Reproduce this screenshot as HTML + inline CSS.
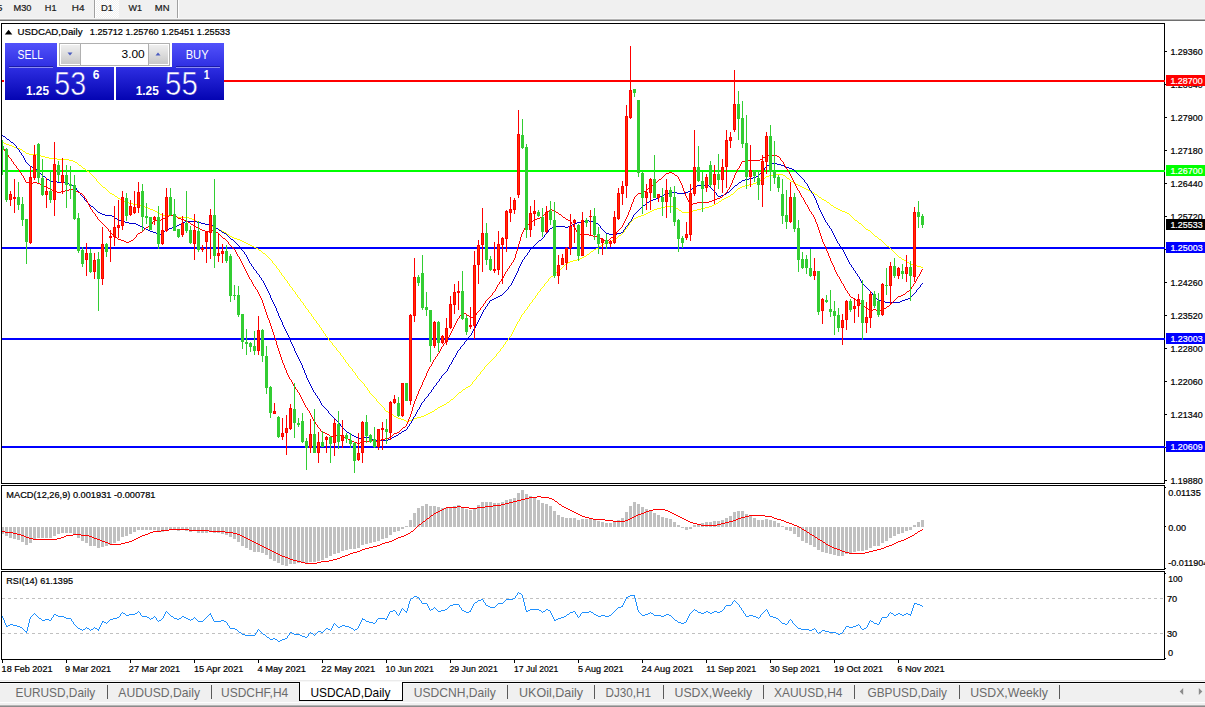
<!DOCTYPE html>
<html><head><meta charset="utf-8"><title>USDCAD,Daily</title>
<style>html,body{margin:0;padding:0;background:#fff;overflow:hidden}body{width:1205px;height:707px;position:relative;font-family:"Liberation Sans",sans-serif}</style></head>
<body>
<svg width="1205" height="707" viewBox="0 0 1205 707" font-family="Liberation Sans, sans-serif" style="position:absolute;left:0;top:0">
<defs>
<linearGradient id="gb" gradientUnits="userSpaceOnUse" x1="0" y1="43" x2="0" y2="100"><stop offset="0" stop-color="#5252fb"/><stop offset="0.45" stop-color="#2c2ce0"/><stop offset="1" stop-color="#0404b2"/></linearGradient>
<linearGradient id="gbtn" x1="0" y1="0" x2="0" y2="1"><stop offset="0" stop-color="#efefef"/><stop offset="0.5" stop-color="#dcdcdc"/><stop offset="1" stop-color="#c8c8c8"/></linearGradient>
<pattern id="dots" width="2" height="2" patternUnits="userSpaceOnUse"><rect width="2" height="2" fill="#f0f0f0"/><rect width="1" height="1" fill="#fff"/><rect x="1" y="1" width="1" height="1" fill="#fff"/></pattern>
</defs>
<rect width="1205" height="707" fill="#fff"/>
<g shape-rendering="crispEdges">
<rect x="0" y="0" width="1205" height="18" fill="#f0f0f0"/>
<rect x="0" y="18" width="1205" height="1" fill="#f6f6f6"/>
<rect x="0" y="19" width="1205" height="1" fill="#b4b4b4"/>
<rect x="0" y="20" width="1205" height="1" fill="#6e6e6e"/>
<rect x="96" y="0" width="23" height="18" fill="url(#dots)"/>
<rect x="94" y="0" width="1" height="18" fill="#a0a0a0"/><rect x="95" y="0" width="1" height="18" fill="#fff"/>
<rect x="177" y="0" width="1" height="18" fill="#a0a0a0"/><rect x="178" y="0" width="1" height="18" fill="#fff"/>
</g>
<text x="-3.20" y="11.00" font-size="9.8" textLength="5.70" lengthAdjust="spacingAndGlyphs" fill="#1a1a1a" stroke="#1a1a1a" stroke-width="0.22">5</text>
<text x="13.50" y="11.00" font-size="9.8" textLength="18.00" lengthAdjust="spacingAndGlyphs" fill="#1a1a1a" stroke="#1a1a1a" stroke-width="0.22">M30</text>
<text x="44.80" y="11.00" font-size="9.8" textLength="11.70" lengthAdjust="spacingAndGlyphs" fill="#1a1a1a" stroke="#1a1a1a" stroke-width="0.22">H1</text>
<text x="71.80" y="11.00" font-size="9.8" textLength="12.70" lengthAdjust="spacingAndGlyphs" fill="#1a1a1a" stroke="#1a1a1a" stroke-width="0.22">H4</text>
<text x="101.00" y="11.00" font-size="9.8" textLength="12.00" lengthAdjust="spacingAndGlyphs" fill="#1a1a1a" stroke="#1a1a1a" stroke-width="0.22">D1</text>
<text x="128.50" y="11.00" font-size="9.8" textLength="13.50" lengthAdjust="spacingAndGlyphs" fill="#1a1a1a" stroke="#1a1a1a" stroke-width="0.22">W1</text>
<text x="154.80" y="11.00" font-size="9.8" textLength="14.70" lengthAdjust="spacingAndGlyphs" fill="#1a1a1a" stroke="#1a1a1a" stroke-width="0.22">MN</text>
<g shape-rendering="crispEdges" fill="#000">
<rect x="1" y="23" width="1164" height="1"/>
<rect x="1" y="23" width="1" height="461"/>
<rect x="1164" y="23" width="1" height="461"/><rect x="1164" y="485" width="1" height="85"/><rect x="1164" y="571" width="1" height="89"/>
<rect x="1" y="483" width="1164" height="1"/>
<rect x="1" y="485" width="1164" height="1"/><rect x="1" y="485" width="1" height="85"/><rect x="1" y="569" width="1164" height="1"/>
<rect x="1" y="571" width="1164" height="1"/><rect x="1" y="571" width="1" height="89"/><rect x="1" y="659" width="1164" height="1"/>
</g>
<rect x="2" y="80" width="1163" height="2" fill="#ff0000" shape-rendering="crispEdges"/>
<rect x="2" y="170" width="1163" height="2" fill="#00ff00" shape-rendering="crispEdges"/>
<rect x="2" y="247" width="1163" height="2" fill="#0000ff" shape-rendering="crispEdges"/>
<rect x="2" y="338" width="1163" height="2" fill="#0000ff" shape-rendering="crispEdges"/>
<rect x="2" y="446" width="1163" height="2" fill="#0000ff" shape-rendering="crispEdges"/>
<clipPath id="cm"><rect x="2" y="24" width="1162" height="459"/></clipPath>
<g clip-path="url(#cm)">
<g shape-rendering="crispEdges">
<path fill="#ffff00" d="M2 142v1h1v-1zM3 142v1h1v-1zM4 143v1h1v-1zM5 143v1h1v-1zM6 144v1h1v-1zM7 144v1h1v-1zM8 144v1h1v-1zM9 145v1h1v-1zM10 145v1h1v-1zM11 145v1h1v-1zM12 146v1h1v-1zM13 146v1h1v-1zM14 147v1h1v-1zM15 147v1h1v-1zM16 147v1h1v-1zM17 148v1h1v-1zM18 148v1h1v-1zM19 148v1h1v-1zM20 149v1h1v-1zM21 149v1h1v-1zM22 150v1h1v-1zM23 151v1h1v-1zM24 151v1h1v-1zM25 152v1h1v-1zM26 153v1h1v-1zM27 153v1h1v-1zM28 153v1h1v-1zM29 154v1h1v-1zM30 154v1h1v-1zM31 154v1h1v-1zM32 154v1h1v-1zM33 154v1h1v-1zM34 154v1h1v-1zM35 154v1h1v-1zM36 154v1h1v-1zM37 155v1h1v-1zM38 155v1h1v-1zM39 155v1h1v-1zM40 155v1h1v-1zM41 156v1h1v-1zM42 156v1h1v-1zM43 156v1h1v-1zM44 156v1h1v-1zM45 157v1h1v-1zM46 157v1h1v-1zM47 157v1h1v-1zM48 157v1h1v-1zM49 158v1h1v-1zM50 158v1h1v-1zM51 158v1h1v-1zM52 158v1h1v-1zM53 158v1h1v-1zM54 158v1h1v-1zM55 158v1h1v-1zM56 158v1h1v-1zM57 159v1h1v-1zM58 159v1h1v-1zM59 159v1h1v-1zM60 159v1h1v-1zM61 159v1h1v-1zM62 159v1h1v-1zM63 159v1h1v-1zM64 159v1h1v-1zM65 159v1h1v-1zM66 159v1h1v-1zM67 159v1h1v-1zM68 159v1h1v-1zM69 160v1h1v-1zM70 160v1h1v-1zM71 160v1h1v-1zM72 160v1h1v-1zM73 161v1h1v-1zM74 161v1h1v-1zM75 162v1h1v-1zM76 162v1h1v-1zM77 163v1h1v-1zM78 164v1h1v-1zM79 165v1h1v-1zM80 165v1h1v-1zM81 166v1h1v-1zM82 167v1h1v-1zM83 168v1h1v-1zM84 168v1h1v-1zM85 169v1h1v-1zM86 170v1h1v-1zM87 171v1h1v-1zM88 171v1h1v-1zM89 172v1h1v-1zM90 173v1h1v-1zM91 174v1h1v-1zM92 175v1h1v-1zM93 176v1h1v-1zM94 177v1h1v-1zM95 178v1h1v-1zM96 179v2h1v-2zM97 181v1h1v-1zM98 182v1h1v-1zM99 183v1h1v-1zM100 184v1h1v-1zM101 185v1h1v-1zM102 186v1h1v-1zM103 187v1h1v-1zM104 187v1h1v-1zM105 188v1h1v-1zM106 189v1h1v-1zM107 190v1h1v-1zM108 191v1h1v-1zM109 192v1h1v-1zM110 193v1h1v-1zM111 193v1h1v-1zM112 194v1h1v-1zM113 194v1h1v-1zM114 195v1h1v-1zM115 196v1h1v-1zM116 196v1h1v-1zM117 197v1h1v-1zM118 198v1h1v-1zM119 198v1h1v-1zM120 199v1h1v-1zM121 199v1h1v-1zM122 200v1h1v-1zM123 200v1h1v-1zM124 201v1h1v-1zM125 201v1h1v-1zM126 202v1h1v-1zM127 202v1h1v-1zM128 202v1h1v-1zM129 203v1h1v-1zM130 203v1h1v-1zM131 203v1h1v-1zM132 203v1h1v-1zM133 204v1h1v-1zM134 204v1h1v-1zM135 204v1h1v-1zM136 204v1h1v-1zM137 205v1h1v-1zM138 205v1h1v-1zM139 205v1h1v-1zM140 205v1h1v-1zM141 206v1h1v-1zM142 206v1h1v-1zM143 206v1h1v-1zM144 206v1h1v-1zM145 207v1h1v-1zM146 207v1h1v-1zM147 207v1h1v-1zM148 208v1h1v-1zM149 208v1h1v-1zM150 209v1h1v-1zM151 209v1h1v-1zM152 209v1h1v-1zM153 210v1h1v-1zM154 210v1h1v-1zM155 211v1h1v-1zM156 211v1h1v-1zM157 212v1h1v-1zM158 213v1h1v-1zM159 213v1h1v-1zM160 214v1h1v-1zM161 214v1h1v-1zM162 215v1h1v-1zM163 215v1h1v-1zM164 215v1h1v-1zM165 215v1h1v-1zM166 215v1h1v-1zM167 215v1h1v-1zM168 215v1h1v-1zM169 215v1h1v-1zM170 215v1h1v-1zM171 215v1h1v-1zM172 215v1h1v-1zM173 216v1h1v-1zM174 216v1h1v-1zM175 216v1h1v-1zM176 216v1h1v-1zM177 217v1h1v-1zM178 217v1h1v-1zM179 217v1h1v-1zM180 217v1h1v-1zM181 217v1h1v-1zM182 217v1h1v-1zM183 217v1h1v-1zM184 217v1h1v-1zM185 217v1h1v-1zM186 217v1h1v-1zM187 217v1h1v-1zM188 217v1h1v-1zM189 218v1h1v-1zM190 218v1h1v-1zM191 218v1h1v-1zM192 219v1h1v-1zM193 219v1h1v-1zM194 220v1h1v-1zM195 220v1h1v-1zM196 221v1h1v-1zM197 221v1h1v-1zM198 222v1h1v-1zM199 222v1h1v-1zM200 222v1h1v-1zM201 223v1h1v-1zM202 223v1h1v-1zM203 223v1h1v-1zM204 223v1h1v-1zM205 224v1h1v-1zM206 224v1h1v-1zM207 224v1h1v-1zM208 224v1h1v-1zM209 225v1h1v-1zM210 225v1h1v-1zM211 225v1h1v-1zM212 226v1h1v-1zM213 226v1h1v-1zM214 227v1h1v-1zM215 227v1h1v-1zM216 228v1h1v-1zM217 228v1h1v-1zM218 229v1h1v-1zM219 229v1h1v-1zM220 230v1h1v-1zM221 230v1h1v-1zM222 231v1h1v-1zM223 231v1h1v-1zM224 232v1h1v-1zM225 232v1h1v-1zM226 233v1h1v-1zM227 234v1h1v-1zM228 234v1h1v-1zM229 235v1h1v-1zM230 236v1h1v-1zM231 236v1h1v-1zM232 237v1h1v-1zM233 237v1h1v-1zM234 238v1h1v-1zM235 238v1h1v-1zM236 238v1h1v-1zM237 239v1h1v-1zM238 239v1h1v-1zM239 239v1h1v-1zM240 240v1h1v-1zM241 240v1h1v-1zM242 241v1h1v-1zM243 241v1h1v-1zM244 242v1h1v-1zM245 242v1h1v-1zM246 243v1h1v-1zM247 243v1h1v-1zM248 244v1h1v-1zM249 244v1h1v-1zM250 245v1h1v-1zM251 245v1h1v-1zM252 246v1h1v-1zM253 246v1h1v-1zM254 247v1h1v-1zM255 247v1h1v-1zM256 248v1h1v-1zM257 248v1h1v-1zM258 249v1h1v-1zM259 250v1h1v-1zM260 250v1h1v-1zM261 251v1h1v-1zM262 252v1h1v-1zM263 253v1h1v-1zM264 253v1h1v-1zM265 254v1h1v-1zM266 255v1h1v-1zM267 256v1h1v-1zM268 257v1h1v-1zM269 258v1h1v-1zM270 259v1h1v-1zM271 260v1h1v-1zM272 261v2h1v-2zM273 263v1h1v-1zM274 264v1h1v-1zM275 265v1h1v-1zM276 266v2h1v-2zM277 268v1h1v-1zM278 269v1h1v-1zM279 270v2h1v-2zM280 272v1h1v-1zM281 273v2h1v-2zM282 275v1h1v-1zM283 276v1h1v-1zM284 277v2h1v-2zM285 279v1h1v-1zM286 280v1h1v-1zM287 281v2h1v-2zM288 283v1h1v-1zM289 284v2h1v-2zM290 286v1h1v-1zM291 287v1h1v-1zM292 288v2h1v-2zM293 290v1h1v-1zM294 291v1h1v-1zM295 292v2h1v-2zM296 294v1h1v-1zM297 295v2h1v-2zM298 297v1h1v-1zM299 298v1h1v-1zM300 299v2h1v-2zM301 301v1h1v-1zM302 302v1h1v-1zM303 303v2h1v-2zM304 305v1h1v-1zM305 306v2h1v-2zM306 308v1h1v-1zM307 309v1h1v-1zM308 310v2h1v-2zM309 312v1h1v-1zM310 313v1h1v-1zM311 314v2h1v-2zM312 316v1h1v-1zM313 317v2h1v-2zM314 319v1h1v-1zM315 320v1h1v-1zM316 321v2h1v-2zM317 323v1h1v-1zM318 324v1h1v-1zM319 325v2h1v-2zM320 327v1h1v-1zM321 328v2h1v-2zM322 330v1h1v-1zM323 331v2h1v-2zM324 333v1h1v-1zM325 334v2h1v-2zM326 336v1h1v-1zM327 337v1h1v-1zM328 338v2h1v-2zM329 340v1h1v-1zM330 341v1h1v-1zM331 342v1h1v-1zM332 343v2h1v-2zM333 345v1h1v-1zM334 346v1h1v-1zM335 347v1h1v-1zM336 348v2h1v-2zM337 350v1h1v-1zM338 351v1h1v-1zM339 352v1h1v-1zM340 353v2h1v-2zM341 355v1h1v-1zM342 356v1h1v-1zM343 357v2h1v-2zM344 359v1h1v-1zM345 360v2h1v-2zM346 362v1h1v-1zM347 363v1h1v-1zM348 364v2h1v-2zM349 366v1h1v-1zM350 367v1h1v-1zM351 368v1h1v-1zM352 369v2h1v-2zM353 371v1h1v-1zM354 372v1h1v-1zM355 373v2h1v-2zM356 375v1h1v-1zM357 376v2h1v-2zM358 378v1h1v-1zM359 379v1h1v-1zM360 380v1h1v-1zM361 381v1h1v-1zM362 382v1h1v-1zM363 383v1h1v-1zM364 384v2h1v-2zM365 386v1h1v-1zM366 387v1h1v-1zM367 388v2h1v-2zM368 390v1h1v-1zM369 391v2h1v-2zM370 393v1h1v-1zM371 394v1h1v-1zM372 395v1h1v-1zM373 396v1h1v-1zM374 397v1h1v-1zM375 398v1h1v-1zM376 399v2h1v-2zM377 401v1h1v-1zM378 402v1h1v-1zM379 403v1h1v-1zM380 404v1h1v-1zM381 405v1h1v-1zM382 406v1h1v-1zM383 407v1h1v-1zM384 408v2h1v-2zM385 410v1h1v-1zM386 411v1h1v-1zM387 411v1h1v-1zM388 412v1h1v-1zM389 412v1h1v-1zM390 413v1h1v-1zM391 414v1h1v-1zM392 414v1h1v-1zM393 415v1h1v-1zM394 416v1h1v-1zM395 416v1h1v-1zM396 417v1h1v-1zM397 417v1h1v-1zM398 418v1h1v-1zM399 418v1h1v-1zM400 418v1h1v-1zM401 419v1h1v-1zM402 419v1h1v-1zM403 419v1h1v-1zM404 420v1h1v-1zM405 420v1h1v-1zM406 421v1h1v-1zM407 421v1h1v-1zM408 421v1h1v-1zM409 420v1h1v-1zM410 420v1h1v-1zM411 420v1h1v-1zM412 419v1h1v-1zM413 419v1h1v-1zM414 418v1h1v-1zM415 418v1h1v-1zM416 418v1h1v-1zM417 417v1h1v-1zM418 417v1h1v-1zM419 417v1h1v-1zM420 417v1h1v-1zM421 416v1h1v-1zM422 416v1h1v-1zM423 416v1h1v-1zM424 415v1h1v-1zM425 415v1h1v-1zM426 414v1h1v-1zM427 414v1h1v-1zM428 413v1h1v-1zM429 413v1h1v-1zM430 412v1h1v-1zM431 412v1h1v-1zM432 411v1h1v-1zM433 411v1h1v-1zM434 410v1h1v-1zM435 409v1h1v-1zM436 409v1h1v-1zM437 408v1h1v-1zM438 407v1h1v-1zM439 407v1h1v-1zM440 406v1h1v-1zM441 406v1h1v-1zM442 405v1h1v-1zM443 405v1h1v-1zM444 404v1h1v-1zM445 404v1h1v-1zM446 403v1h1v-1zM447 402v1h1v-1zM448 402v1h1v-1zM449 401v1h1v-1zM450 400v1h1v-1zM451 399v1h1v-1zM452 399v1h1v-1zM453 398v1h1v-1zM454 397v1h1v-1zM455 396v1h1v-1zM456 395v1h1v-1zM457 394v1h1v-1zM458 393v1h1v-1zM459 392v1h1v-1zM460 392v1h1v-1zM461 391v1h1v-1zM462 390v1h1v-1zM463 389v1h1v-1zM464 389v1h1v-1zM465 388v1h1v-1zM466 387v1h1v-1zM467 387v1h1v-1zM468 386v1h1v-1zM469 386v1h1v-1zM470 385v1h1v-1zM471 384v1h1v-1zM472 382v2h1v-2zM473 381v1h1v-1zM474 380v1h1v-1zM475 379v1h1v-1zM476 377v2h1v-2zM477 376v1h1v-1zM478 375v1h1v-1zM479 374v1h1v-1zM480 372v2h1v-2zM481 371v1h1v-1zM482 370v1h1v-1zM483 369v1h1v-1zM484 367v2h1v-2zM485 366v1h1v-1zM486 365v1h1v-1zM487 364v1h1v-1zM488 363v1h1v-1zM489 362v1h1v-1zM490 361v1h1v-1zM491 360v1h1v-1zM492 359v1h1v-1zM493 358v1h1v-1zM494 357v1h1v-1zM495 356v1h1v-1zM496 354v2h1v-2zM497 353v1h1v-1zM498 352v1h1v-1zM499 351v1h1v-1zM500 349v2h1v-2zM501 348v1h1v-1zM502 347v1h1v-1zM503 345v2h1v-2zM504 344v1h1v-1zM505 342v2h1v-2zM506 341v1h1v-1zM507 340v1h1v-1zM508 338v2h1v-2zM509 337v1h1v-1zM510 336v1h1v-1zM511 334v2h1v-2zM512 332v2h1v-2zM513 330v2h1v-2zM514 328v2h1v-2zM515 326v2h1v-2zM516 324v2h1v-2zM517 322v2h1v-2zM518 321v1h1v-1zM519 319v2h1v-2zM520 317v2h1v-2zM521 315v2h1v-2zM522 314v1h1v-1zM523 313v1h1v-1zM524 311v2h1v-2zM525 310v1h1v-1zM526 309v1h1v-1zM527 307v2h1v-2zM528 306v1h1v-1zM529 304v2h1v-2zM530 303v1h1v-1zM531 302v1h1v-1zM532 300v2h1v-2zM533 299v1h1v-1zM534 298v1h1v-1zM535 296v2h1v-2zM536 295v1h1v-1zM537 293v2h1v-2zM538 292v1h1v-1zM539 291v1h1v-1zM540 289v2h1v-2zM541 288v1h1v-1zM542 287v1h1v-1zM543 286v1h1v-1zM544 284v2h1v-2zM545 283v1h1v-1zM546 282v1h1v-1zM547 281v1h1v-1zM548 279v2h1v-2zM549 278v1h1v-1zM550 277v1h1v-1zM551 276v1h1v-1zM552 276v1h1v-1zM553 275v1h1v-1zM554 274v1h1v-1zM555 273v1h1v-1zM556 272v1h1v-1zM557 271v1h1v-1zM558 270v1h1v-1zM559 269v1h1v-1zM560 269v1h1v-1zM561 268v1h1v-1zM562 267v1h1v-1zM563 266v1h1v-1zM564 265v1h1v-1zM565 264v1h1v-1zM566 263v1h1v-1zM567 263v1h1v-1zM568 262v1h1v-1zM569 262v1h1v-1zM570 261v1h1v-1zM571 261v1h1v-1zM572 261v1h1v-1zM573 260v1h1v-1zM574 260v1h1v-1zM575 260v1h1v-1zM576 260v1h1v-1zM577 259v1h1v-1zM578 259v1h1v-1zM579 259v1h1v-1zM580 258v1h1v-1zM581 258v1h1v-1zM582 257v1h1v-1zM583 257v1h1v-1zM584 256v1h1v-1zM585 256v1h1v-1zM586 255v1h1v-1zM587 254v1h1v-1zM588 254v1h1v-1zM589 253v1h1v-1zM590 252v1h1v-1zM591 251v1h1v-1zM592 251v1h1v-1zM593 250v1h1v-1zM594 249v1h1v-1zM595 249v1h1v-1zM596 248v1h1v-1zM597 248v1h1v-1zM598 247v1h1v-1zM599 246v1h1v-1zM600 246v1h1v-1zM601 245v1h1v-1zM602 244v1h1v-1zM603 244v1h1v-1zM604 243v1h1v-1zM605 243v1h1v-1zM606 242v1h1v-1zM607 242v1h1v-1zM608 242v1h1v-1zM609 241v1h1v-1zM610 241v1h1v-1zM611 241v1h1v-1zM612 240v1h1v-1zM613 240v1h1v-1zM614 239v1h1v-1zM615 238v1h1v-1zM616 238v1h1v-1zM617 237v1h1v-1zM618 236v1h1v-1zM619 235v1h1v-1zM620 235v1h1v-1zM621 234v1h1v-1zM622 233v1h1v-1zM623 232v1h1v-1zM624 230v2h1v-2zM625 229v1h1v-1zM626 228v1h1v-1zM627 226v2h1v-2zM628 225v1h1v-1zM629 223v2h1v-2zM630 222v1h1v-1zM631 221v1h1v-1zM632 220v1h1v-1zM633 219v1h1v-1zM634 218v1h1v-1zM635 218v1h1v-1zM636 217v1h1v-1zM637 217v1h1v-1zM638 216v1h1v-1zM639 216v1h1v-1zM640 216v1h1v-1zM641 215v1h1v-1zM642 215v1h1v-1zM643 215v1h1v-1zM644 214v1h1v-1zM645 214v1h1v-1zM646 213v1h1v-1zM647 213v1h1v-1zM648 212v1h1v-1zM649 212v1h1v-1zM650 211v1h1v-1zM651 211v1h1v-1zM652 210v1h1v-1zM653 210v1h1v-1zM654 209v1h1v-1zM655 209v1h1v-1zM656 209v1h1v-1zM657 208v1h1v-1zM658 208v1h1v-1zM659 208v1h1v-1zM660 208v1h1v-1zM661 207v1h1v-1zM662 207v1h1v-1zM663 207v1h1v-1zM664 207v1h1v-1zM665 206v1h1v-1zM666 206v1h1v-1zM667 206v1h1v-1zM668 206v1h1v-1zM669 206v1h1v-1zM670 206v1h1v-1zM671 206v1h1v-1zM672 206v1h1v-1zM673 207v1h1v-1zM674 207v1h1v-1zM675 207v1h1v-1zM676 208v1h1v-1zM677 208v1h1v-1zM678 209v1h1v-1zM679 210v1h1v-1zM680 210v1h1v-1zM681 211v1h1v-1zM682 212v1h1v-1zM683 212v1h1v-1zM684 212v1h1v-1zM685 212v1h1v-1zM686 212v1h1v-1zM687 212v1h1v-1zM688 212v1h1v-1zM689 211v1h1v-1zM690 211v1h1v-1zM691 211v1h1v-1zM692 211v1h1v-1zM693 210v1h1v-1zM694 210v1h1v-1zM695 210v1h1v-1zM696 210v1h1v-1zM697 209v1h1v-1zM698 209v1h1v-1zM699 209v1h1v-1zM700 209v1h1v-1zM701 208v1h1v-1zM702 208v1h1v-1zM703 208v1h1v-1zM704 208v1h1v-1zM705 207v1h1v-1zM706 207v1h1v-1zM707 207v1h1v-1zM708 207v1h1v-1zM709 206v1h1v-1zM710 206v1h1v-1zM711 206v1h1v-1zM712 205v1h1v-1zM713 205v1h1v-1zM714 204v1h1v-1zM715 204v1h1v-1zM716 203v1h1v-1zM717 203v1h1v-1zM718 202v1h1v-1zM719 201v1h1v-1zM720 201v1h1v-1zM721 200v1h1v-1zM722 199v1h1v-1zM723 199v1h1v-1zM724 198v1h1v-1zM725 198v1h1v-1zM726 197v1h1v-1zM727 197v1h1v-1zM728 196v1h1v-1zM729 196v1h1v-1zM730 195v1h1v-1zM731 194v1h1v-1zM732 194v1h1v-1zM733 193v1h1v-1zM734 192v1h1v-1zM735 191v1h1v-1zM736 190v1h1v-1zM737 189v1h1v-1zM738 188v1h1v-1zM739 188v1h1v-1zM740 187v1h1v-1zM741 187v1h1v-1zM742 186v1h1v-1zM743 186v1h1v-1zM744 186v1h1v-1zM745 185v1h1v-1zM746 185v1h1v-1zM747 185v1h1v-1zM748 185v1h1v-1zM749 184v1h1v-1zM750 184v1h1v-1zM751 184v1h1v-1zM752 184v1h1v-1zM753 183v1h1v-1zM754 183v1h1v-1zM755 183v1h1v-1zM756 182v1h1v-1zM757 182v1h1v-1zM758 181v1h1v-1zM759 181v1h1v-1zM760 180v1h1v-1zM761 180v1h1v-1zM762 179v1h1v-1zM763 178v1h1v-1zM764 178v1h1v-1zM765 177v1h1v-1zM766 176v1h1v-1zM767 176v1h1v-1zM768 176v1h1v-1zM769 175v1h1v-1zM770 175v1h1v-1zM771 175v1h1v-1zM772 175v1h1v-1zM773 174v1h1v-1zM774 174v1h1v-1zM775 174v1h1v-1zM776 174v1h1v-1zM777 174v1h1v-1zM778 174v1h1v-1zM779 174v1h1v-1zM780 174v1h1v-1zM781 174v1h1v-1zM782 174v1h1v-1zM783 175v1h1v-1zM784 175v1h1v-1zM785 176v1h1v-1zM786 177v1h1v-1zM787 178v1h1v-1zM788 178v1h1v-1zM789 179v1h1v-1zM790 180v1h1v-1zM791 181v1h1v-1zM792 181v1h1v-1zM793 182v1h1v-1zM794 183v1h1v-1zM795 183v1h1v-1zM796 184v1h1v-1zM797 184v1h1v-1zM798 185v1h1v-1zM799 185v1h1v-1zM800 186v1h1v-1zM801 186v1h1v-1zM802 187v1h1v-1zM803 187v1h1v-1zM804 188v1h1v-1zM805 188v1h1v-1zM806 189v1h1v-1zM807 189v1h1v-1zM808 190v1h1v-1zM809 190v1h1v-1zM810 191v1h1v-1zM811 191v1h1v-1zM812 192v1h1v-1zM813 192v1h1v-1zM814 193v1h1v-1zM815 194v1h1v-1zM816 194v1h1v-1zM817 195v1h1v-1zM818 196v1h1v-1zM819 197v1h1v-1zM820 197v1h1v-1zM821 198v1h1v-1zM822 199v1h1v-1zM823 199v1h1v-1zM824 200v1h1v-1zM825 200v1h1v-1zM826 201v1h1v-1zM827 202v1h1v-1zM828 202v1h1v-1zM829 203v1h1v-1zM830 204v1h1v-1zM831 205v1h1v-1zM832 205v1h1v-1zM833 206v1h1v-1zM834 207v1h1v-1zM835 207v1h1v-1zM836 208v1h1v-1zM837 208v1h1v-1zM838 209v1h1v-1zM839 209v1h1v-1zM840 210v1h1v-1zM841 210v1h1v-1zM842 211v1h1v-1zM843 211v1h1v-1zM844 211v1h1v-1zM845 212v1h1v-1zM846 212v1h1v-1zM847 213v1h1v-1zM848 213v1h1v-1zM849 214v1h1v-1zM850 215v1h1v-1zM851 216v1h1v-1zM852 217v1h1v-1zM853 218v1h1v-1zM854 219v1h1v-1zM855 220v1h1v-1zM856 220v1h1v-1zM857 221v1h1v-1zM858 222v1h1v-1zM859 223v1h1v-1zM860 223v1h1v-1zM861 224v1h1v-1zM862 225v1h1v-1zM863 226v1h1v-1zM864 227v1h1v-1zM865 228v1h1v-1zM866 229v1h1v-1zM867 229v1h1v-1zM868 230v1h1v-1zM869 230v1h1v-1zM870 231v1h1v-1zM871 232v1h1v-1zM872 233v1h1v-1zM873 234v1h1v-1zM874 235v1h1v-1zM875 236v1h1v-1zM876 236v1h1v-1zM877 237v1h1v-1zM878 238v1h1v-1zM879 239v1h1v-1zM880 239v1h1v-1zM881 240v1h1v-1zM882 241v1h1v-1zM883 242v1h1v-1zM884 243v1h1v-1zM885 244v1h1v-1zM886 245v1h1v-1zM887 246v1h1v-1zM888 246v1h1v-1zM889 247v1h1v-1zM890 248v1h1v-1zM891 249v1h1v-1zM892 250v1h1v-1zM893 251v1h1v-1zM894 252v1h1v-1zM895 253v1h1v-1zM896 254v1h1v-1zM897 255v1h1v-1zM898 256v1h1v-1zM899 257v1h1v-1zM900 257v1h1v-1zM901 258v1h1v-1zM902 259v1h1v-1zM903 259v1h1v-1zM904 260v1h1v-1zM905 260v1h1v-1zM906 261v1h1v-1zM907 262v1h1v-1zM908 262v1h1v-1zM909 263v1h1v-1zM910 264v1h1v-1zM911 264v1h1v-1zM912 264v1h1v-1zM913 265v1h1v-1zM914 265v1h1v-1zM915 265v1h1v-1zM916 265v1h1v-1zM917 266v1h1v-1zM918 266v1h1v-1zM919 266v1h1v-1zM920 266v1h1v-1zM921 267v1h1v-1zM922 267v1h1v-1z"/>
<path fill="#0000cd" d="M2 135v1h1v-1zM3 136v1h1v-1zM4 136v1h1v-1zM5 137v1h1v-1zM6 138v1h1v-1zM7 139v1h1v-1zM8 139v1h1v-1zM9 140v1h1v-1zM10 141v1h1v-1zM11 142v1h1v-1zM12 142v1h1v-1zM13 143v1h1v-1zM14 144v1h1v-1zM15 145v1h1v-1zM16 146v2h1v-2zM17 148v1h1v-1zM18 149v1h1v-1zM19 150v2h1v-2zM20 152v1h1v-1zM21 153v2h1v-2zM22 155v1h1v-1zM23 156v2h1v-2zM24 158v2h1v-2zM25 160v2h1v-2zM26 162v1h1v-1zM27 163v1h1v-1zM28 164v1h1v-1zM29 165v1h1v-1zM30 166v1h1v-1zM31 166v1h1v-1zM32 167v1h1v-1zM33 167v1h1v-1zM34 168v1h1v-1zM35 169v1h1v-1zM36 169v1h1v-1zM37 170v1h1v-1zM38 171v1h1v-1zM39 172v1h1v-1zM40 173v1h1v-1zM41 174v1h1v-1zM42 175v1h1v-1zM43 176v1h1v-1zM44 176v1h1v-1zM45 177v1h1v-1zM46 178v1h1v-1zM47 179v1h1v-1zM48 179v1h1v-1zM49 180v1h1v-1zM50 181v1h1v-1zM51 181v1h1v-1zM52 181v1h1v-1zM53 181v1h1v-1zM54 181v1h1v-1zM55 181v1h1v-1zM56 181v1h1v-1zM57 182v1h1v-1zM58 182v1h1v-1zM59 182v1h1v-1zM60 182v1h1v-1zM61 182v1h1v-1zM62 182v1h1v-1zM63 182v1h1v-1zM64 182v1h1v-1zM65 183v1h1v-1zM66 183v1h1v-1zM67 183v1h1v-1zM68 183v1h1v-1zM69 184v1h1v-1zM70 184v1h1v-1zM71 184v1h1v-1zM72 185v1h1v-1zM73 185v1h1v-1zM74 186v1h1v-1zM75 187v1h1v-1zM76 188v2h1v-2zM77 190v1h1v-1zM78 191v1h1v-1zM79 192v1h1v-1zM80 193v2h1v-2zM81 195v1h1v-1zM82 196v1h1v-1zM83 197v1h1v-1zM84 198v2h1v-2zM85 200v1h1v-1zM86 201v1h1v-1zM87 202v1h1v-1zM88 203v1h1v-1zM89 204v1h1v-1zM90 205v1h1v-1zM91 206v1h1v-1zM92 206v1h1v-1zM93 207v1h1v-1zM94 208v1h1v-1zM95 209v1h1v-1zM96 210v1h1v-1zM97 211v1h1v-1zM98 212v1h1v-1zM99 212v1h1v-1zM100 213v1h1v-1zM101 213v1h1v-1zM102 214v1h1v-1zM103 214v1h1v-1zM104 214v1h1v-1zM105 215v1h1v-1zM106 215v1h1v-1zM107 215v1h1v-1zM108 215v1h1v-1zM109 215v1h1v-1zM110 215v1h1v-1zM111 215v1h1v-1zM112 216v1h1v-1zM113 216v1h1v-1zM114 217v1h1v-1zM115 218v1h1v-1zM116 218v1h1v-1zM117 219v1h1v-1zM118 220v1h1v-1zM119 220v1h1v-1zM120 220v1h1v-1zM121 221v1h1v-1zM122 221v1h1v-1zM123 221v1h1v-1zM124 221v1h1v-1zM125 222v1h1v-1zM126 222v1h1v-1zM127 222v1h1v-1zM128 222v1h1v-1zM129 223v1h1v-1zM130 223v1h1v-1zM131 223v1h1v-1zM132 223v1h1v-1zM133 223v1h1v-1zM134 223v1h1v-1zM135 223v1h1v-1zM136 224v1h1v-1zM137 224v1h1v-1zM138 225v1h1v-1zM139 225v1h1v-1zM140 226v1h1v-1zM141 226v1h1v-1zM142 227v1h1v-1zM143 227v1h1v-1zM144 228v1h1v-1zM145 228v1h1v-1zM146 229v1h1v-1zM147 229v1h1v-1zM148 230v1h1v-1zM149 230v1h1v-1zM150 231v1h1v-1zM151 231v1h1v-1zM152 231v1h1v-1zM153 232v1h1v-1zM154 232v1h1v-1zM155 232v1h1v-1zM156 233v1h1v-1zM157 233v1h1v-1zM158 234v1h1v-1zM159 234v1h1v-1zM160 234v1h1v-1zM161 233v1h1v-1zM162 233v1h1v-1zM163 232v1h1v-1zM164 231v1h1v-1zM165 230v1h1v-1zM166 229v1h1v-1zM167 229v1h1v-1zM168 229v1h1v-1zM169 228v1h1v-1zM170 228v1h1v-1zM171 228v1h1v-1zM172 227v1h1v-1zM173 227v1h1v-1zM174 226v1h1v-1zM175 226v1h1v-1zM176 226v1h1v-1zM177 225v1h1v-1zM178 225v1h1v-1zM179 224v1h1v-1zM180 224v1h1v-1zM181 223v1h1v-1zM182 222v1h1v-1zM183 222v1h1v-1zM184 222v1h1v-1zM185 221v1h1v-1zM186 221v1h1v-1zM187 221v1h1v-1zM188 221v1h1v-1zM189 221v1h1v-1zM190 221v1h1v-1zM191 221v1h1v-1zM192 221v1h1v-1zM193 221v1h1v-1zM194 221v1h1v-1zM195 221v1h1v-1zM196 221v1h1v-1zM197 222v1h1v-1zM198 222v1h1v-1zM199 222v1h1v-1zM200 222v1h1v-1zM201 223v1h1v-1zM202 223v1h1v-1zM203 223v1h1v-1zM204 223v1h1v-1zM205 224v1h1v-1zM206 224v1h1v-1zM207 224v1h1v-1zM208 224v1h1v-1zM209 224v1h1v-1zM210 224v1h1v-1zM211 225v1h1v-1zM212 225v1h1v-1zM213 226v1h1v-1zM214 227v1h1v-1zM215 227v1h1v-1zM216 228v1h1v-1zM217 228v1h1v-1zM218 229v1h1v-1zM219 230v1h1v-1zM220 230v1h1v-1zM221 231v1h1v-1zM222 232v1h1v-1zM223 232v1h1v-1zM224 233v1h1v-1zM225 233v1h1v-1zM226 234v1h1v-1zM227 235v1h1v-1zM228 236v1h1v-1zM229 237v1h1v-1zM230 238v1h1v-1zM231 239v1h1v-1zM232 239v1h1v-1zM233 240v1h1v-1zM234 241v1h1v-1zM235 242v1h1v-1zM236 243v1h1v-1zM237 244v1h1v-1zM238 245v1h1v-1zM239 246v1h1v-1zM240 247v2h1v-2zM241 249v1h1v-1zM242 250v1h1v-1zM243 251v1h1v-1zM244 252v2h1v-2zM245 254v1h1v-1zM246 255v2h1v-2zM247 257v2h1v-2zM248 259v2h1v-2zM249 261v2h1v-2zM250 263v1h1v-1zM251 264v2h1v-2zM252 266v1h1v-1zM253 267v2h1v-2zM254 269v1h1v-1zM255 270v1h1v-1zM256 271v2h1v-2zM257 273v1h1v-1zM258 274v1h1v-1zM259 275v2h1v-2zM260 277v1h1v-1zM261 278v2h1v-2zM262 280v1h1v-1zM263 281v2h1v-2zM264 283v2h1v-2zM265 285v2h1v-2zM266 287v2h1v-2zM267 289v2h1v-2zM268 291v2h1v-2zM269 293v2h1v-2zM270 295v3h1v-3zM271 298v2h1v-2zM272 300v2h1v-2zM273 302v2h1v-2zM274 304v2h1v-2zM275 306v2h1v-2zM276 308v3h1v-3zM277 311v2h1v-2zM278 313v3h1v-3zM279 316v2h1v-2zM280 318v2h1v-2zM281 320v2h1v-2zM282 322v3h1v-3zM283 325v2h1v-2zM284 327v2h1v-2zM285 329v2h1v-2zM286 331v2h1v-2zM287 333v2h1v-2zM288 335v2h1v-2zM289 337v2h1v-2zM290 339v3h1v-3zM291 342v2h1v-2zM292 344v2h1v-2zM293 346v2h1v-2zM294 348v3h1v-3zM295 351v2h1v-2zM296 353v2h1v-2zM297 355v2h1v-2zM298 357v2h1v-2zM299 359v2h1v-2zM300 361v2h1v-2zM301 363v2h1v-2zM302 365v3h1v-3zM303 368v2h1v-2zM304 370v3h1v-3zM305 373v2h1v-2zM306 375v3h1v-3zM307 378v2h1v-2zM308 380v2h1v-2zM309 382v2h1v-2zM310 384v2h1v-2zM311 386v2h1v-2zM312 388v2h1v-2zM313 390v2h1v-2zM314 392v1h1v-1zM315 393v2h1v-2zM316 395v1h1v-1zM317 396v2h1v-2zM318 398v1h1v-1zM319 399v2h1v-2zM320 401v2h1v-2zM321 403v2h1v-2zM322 405v1h1v-1zM323 406v1h1v-1zM324 407v1h1v-1zM325 408v1h1v-1zM326 409v1h1v-1zM327 410v1h1v-1zM328 411v2h1v-2zM329 413v1h1v-1zM330 414v1h1v-1zM331 415v1h1v-1zM332 416v1h1v-1zM333 417v1h1v-1zM334 418v1h1v-1zM335 419v1h1v-1zM336 420v1h1v-1zM337 421v1h1v-1zM338 422v1h1v-1zM339 423v1h1v-1zM340 424v2h1v-2zM341 426v1h1v-1zM342 427v1h1v-1zM343 428v1h1v-1zM344 429v1h1v-1zM345 430v1h1v-1zM346 431v1h1v-1zM347 432v1h1v-1zM348 432v1h1v-1zM349 433v1h1v-1zM350 434v1h1v-1zM351 434v1h1v-1zM352 435v1h1v-1zM353 435v1h1v-1zM354 436v1h1v-1zM355 436v1h1v-1zM356 437v1h1v-1zM357 437v1h1v-1zM358 438v1h1v-1zM359 438v1h1v-1zM360 438v1h1v-1zM361 437v1h1v-1zM362 437v1h1v-1zM363 437v1h1v-1zM364 437v1h1v-1zM365 437v1h1v-1zM366 437v1h1v-1zM367 437v1h1v-1zM368 437v1h1v-1zM369 438v1h1v-1zM370 438v1h1v-1zM371 438v1h1v-1zM372 439v1h1v-1zM373 439v1h1v-1zM374 440v1h1v-1zM375 440v1h1v-1zM376 440v1h1v-1zM377 440v1h1v-1zM378 440v1h1v-1zM379 440v1h1v-1zM380 440v1h1v-1zM381 440v1h1v-1zM382 440v1h1v-1zM383 440v1h1v-1zM384 440v1h1v-1zM385 440v1h1v-1zM386 440v1h1v-1zM387 440v1h1v-1zM388 439v1h1v-1zM389 439v1h1v-1zM390 438v1h1v-1zM391 438v1h1v-1zM392 437v1h1v-1zM393 437v1h1v-1zM394 436v1h1v-1zM395 436v1h1v-1zM396 435v1h1v-1zM397 435v1h1v-1zM398 434v1h1v-1zM399 433v1h1v-1zM400 433v1h1v-1zM401 432v1h1v-1zM402 431v1h1v-1zM403 431v1h1v-1zM404 430v1h1v-1zM405 430v1h1v-1zM406 429v1h1v-1zM407 427v2h1v-2zM408 426v1h1v-1zM409 424v2h1v-2zM410 423v1h1v-1zM411 421v2h1v-2zM412 419v2h1v-2zM413 417v2h1v-2zM414 416v1h1v-1zM415 414v2h1v-2zM416 412v2h1v-2zM417 410v2h1v-2zM418 409v1h1v-1zM419 407v2h1v-2zM420 405v2h1v-2zM421 403v2h1v-2zM422 402v1h1v-1zM423 401v1h1v-1zM424 399v2h1v-2zM425 398v1h1v-1zM426 397v1h1v-1zM427 396v1h1v-1zM428 394v2h1v-2zM429 393v1h1v-1zM430 392v1h1v-1zM431 390v2h1v-2zM432 389v1h1v-1zM433 387v2h1v-2zM434 386v1h1v-1zM435 385v1h1v-1zM436 383v2h1v-2zM437 382v1h1v-1zM438 381v1h1v-1zM439 379v2h1v-2zM440 378v1h1v-1zM441 376v2h1v-2zM442 375v1h1v-1zM443 374v1h1v-1zM444 373v1h1v-1zM445 372v1h1v-1zM446 371v1h1v-1zM447 369v2h1v-2zM448 367v2h1v-2zM449 365v2h1v-2zM450 364v1h1v-1zM451 362v2h1v-2zM452 360v2h1v-2zM453 358v2h1v-2zM454 357v1h1v-1zM455 355v2h1v-2zM456 353v2h1v-2zM457 351v2h1v-2zM458 350v1h1v-1zM459 349v1h1v-1zM460 347v2h1v-2zM461 346v1h1v-1zM462 345v1h1v-1zM463 344v1h1v-1zM464 342v2h1v-2zM465 341v1h1v-1zM466 340v1h1v-1zM467 339v1h1v-1zM468 337v2h1v-2zM469 336v1h1v-1zM470 335v1h1v-1zM471 333v2h1v-2zM472 331v2h1v-2zM473 329v2h1v-2zM474 328v1h1v-1zM475 326v2h1v-2zM476 324v2h1v-2zM477 322v2h1v-2zM478 320v2h1v-2zM479 318v2h1v-2zM480 316v2h1v-2zM481 314v2h1v-2zM482 312v2h1v-2zM483 310v2h1v-2zM484 309v1h1v-1zM485 307v2h1v-2zM486 306v1h1v-1zM487 304v2h1v-2zM488 303v1h1v-1zM489 301v2h1v-2zM490 300v1h1v-1zM491 300v1h1v-1zM492 299v1h1v-1zM493 299v1h1v-1zM494 298v1h1v-1zM495 298v1h1v-1zM496 297v1h1v-1zM497 297v1h1v-1zM498 296v1h1v-1zM499 296v1h1v-1zM500 295v1h1v-1zM501 295v1h1v-1zM502 294v1h1v-1zM503 293v1h1v-1zM504 292v1h1v-1zM505 291v1h1v-1zM506 290v1h1v-1zM507 289v1h1v-1zM508 287v2h1v-2zM509 286v1h1v-1zM510 285v1h1v-1zM511 283v2h1v-2zM512 281v2h1v-2zM513 279v2h1v-2zM514 277v2h1v-2zM515 275v2h1v-2zM516 273v2h1v-2zM517 271v2h1v-2zM518 268v3h1v-3zM519 266v2h1v-2zM520 264v2h1v-2zM521 262v2h1v-2zM522 260v2h1v-2zM523 259v1h1v-1zM524 257v2h1v-2zM525 256v1h1v-1zM526 255v1h1v-1zM527 253v2h1v-2zM528 252v1h1v-1zM529 250v2h1v-2zM530 249v1h1v-1zM531 248v1h1v-1zM532 247v1h1v-1zM533 246v1h1v-1zM534 245v1h1v-1zM535 244v1h1v-1zM536 243v1h1v-1zM537 242v1h1v-1zM538 241v1h1v-1zM539 240v1h1v-1zM540 240v1h1v-1zM541 239v1h1v-1zM542 238v1h1v-1zM543 237v1h1v-1zM544 235v2h1v-2zM545 234v1h1v-1zM546 233v1h1v-1zM547 232v1h1v-1zM548 230v2h1v-2zM549 229v1h1v-1zM550 228v1h1v-1zM551 228v1h1v-1zM552 227v1h1v-1zM553 227v1h1v-1zM554 226v1h1v-1zM555 226v1h1v-1zM556 226v1h1v-1zM557 226v1h1v-1zM558 226v1h1v-1zM559 226v1h1v-1zM560 226v1h1v-1zM561 226v1h1v-1zM562 226v1h1v-1zM563 226v1h1v-1zM564 226v1h1v-1zM565 227v1h1v-1zM566 227v1h1v-1zM567 227v1h1v-1zM568 226v1h1v-1zM569 226v1h1v-1zM570 225v1h1v-1zM571 225v1h1v-1zM572 224v1h1v-1zM573 224v1h1v-1zM574 223v1h1v-1zM575 223v1h1v-1zM576 223v1h1v-1zM577 222v1h1v-1zM578 222v1h1v-1zM579 222v1h1v-1zM580 222v1h1v-1zM581 221v1h1v-1zM582 221v1h1v-1zM583 221v1h1v-1zM584 221v1h1v-1zM585 220v1h1v-1zM586 220v1h1v-1zM587 220v1h1v-1zM588 220v1h1v-1zM589 221v1h1v-1zM590 221v1h1v-1zM591 221v1h1v-1zM592 221v1h1v-1zM593 222v1h1v-1zM594 222v1h1v-1zM595 222v1h1v-1zM596 223v1h1v-1zM597 223v1h1v-1zM598 224v1h1v-1zM599 225v1h1v-1zM600 226v2h1v-2zM601 228v1h1v-1zM602 229v1h1v-1zM603 230v1h1v-1zM604 231v1h1v-1zM605 232v1h1v-1zM606 233v1h1v-1zM607 233v1h1v-1zM608 233v1h1v-1zM609 234v1h1v-1zM610 234v1h1v-1zM611 234v1h1v-1zM612 234v1h1v-1zM613 234v1h1v-1zM614 234v1h1v-1zM615 234v1h1v-1zM616 234v1h1v-1zM617 233v1h1v-1zM618 233v1h1v-1zM619 233v1h1v-1zM620 233v1h1v-1zM621 232v1h1v-1zM622 232v1h1v-1zM623 230v2h1v-2zM624 229v1h1v-1zM625 227v2h1v-2zM626 226v1h1v-1zM627 225v1h1v-1zM628 223v2h1v-2zM629 222v1h1v-1zM630 221v1h1v-1zM631 219v2h1v-2zM632 217v2h1v-2zM633 215v2h1v-2zM634 214v1h1v-1zM635 213v1h1v-1zM636 212v1h1v-1zM637 211v1h1v-1zM638 210v1h1v-1zM639 209v1h1v-1zM640 208v1h1v-1zM641 207v1h1v-1zM642 206v1h1v-1zM643 205v1h1v-1zM644 205v1h1v-1zM645 204v1h1v-1zM646 203v1h1v-1zM647 202v1h1v-1zM648 202v1h1v-1zM649 201v1h1v-1zM650 200v1h1v-1zM651 200v1h1v-1zM652 200v1h1v-1zM653 199v1h1v-1zM654 199v1h1v-1zM655 199v1h1v-1zM656 198v1h1v-1zM657 198v1h1v-1zM658 197v1h1v-1zM659 197v1h1v-1zM660 196v1h1v-1zM661 196v1h1v-1zM662 195v1h1v-1zM663 195v1h1v-1zM664 194v1h1v-1zM665 194v1h1v-1zM666 193v1h1v-1zM667 193v1h1v-1zM668 193v1h1v-1zM669 192v1h1v-1zM670 192v1h1v-1zM671 192v1h1v-1zM672 192v1h1v-1zM673 192v1h1v-1zM674 192v1h1v-1zM675 192v1h1v-1zM676 192v1h1v-1zM677 193v1h1v-1zM678 193v1h1v-1zM679 193v1h1v-1zM680 193v1h1v-1zM681 193v1h1v-1zM682 193v1h1v-1zM683 193v1h1v-1zM684 193v1h1v-1zM685 192v1h1v-1zM686 192v1h1v-1zM687 192v1h1v-1zM688 191v1h1v-1zM689 191v1h1v-1zM690 190v1h1v-1zM691 189v1h1v-1zM692 188v1h1v-1zM693 187v1h1v-1zM694 186v1h1v-1zM695 186v1h1v-1zM696 186v1h1v-1zM697 185v1h1v-1zM698 185v1h1v-1zM699 185v1h1v-1zM700 185v1h1v-1zM701 185v1h1v-1zM702 185v1h1v-1zM703 185v1h1v-1zM704 185v1h1v-1zM705 184v1h1v-1zM706 184v1h1v-1zM707 185v1h1v-1zM708 185v1h1v-1zM709 186v1h1v-1zM710 187v1h1v-1zM711 188v1h1v-1zM712 189v1h1v-1zM713 190v1h1v-1zM714 191v1h1v-1zM715 192v1h1v-1zM716 193v2h1v-2zM717 195v1h1v-1zM718 196v1h1v-1zM719 196v1h1v-1zM720 196v1h1v-1zM721 195v1h1v-1zM722 195v1h1v-1zM723 195v1h1v-1zM724 194v1h1v-1zM725 194v1h1v-1zM726 193v1h1v-1zM727 192v1h1v-1zM728 192v1h1v-1zM729 191v1h1v-1zM730 190v1h1v-1zM731 189v1h1v-1zM732 188v1h1v-1zM733 187v1h1v-1zM734 186v1h1v-1zM735 185v1h1v-1zM736 185v1h1v-1zM737 184v1h1v-1zM738 183v1h1v-1zM739 182v1h1v-1zM740 182v1h1v-1zM741 181v1h1v-1zM742 180v1h1v-1zM743 180v1h1v-1zM744 180v1h1v-1zM745 179v1h1v-1zM746 179v1h1v-1zM747 179v1h1v-1zM748 179v1h1v-1zM749 178v1h1v-1zM750 178v1h1v-1zM751 178v1h1v-1zM752 178v1h1v-1zM753 177v1h1v-1zM754 177v1h1v-1zM755 177v1h1v-1zM756 176v1h1v-1zM757 176v1h1v-1zM758 175v1h1v-1zM759 174v1h1v-1zM760 173v1h1v-1zM761 172v1h1v-1zM762 171v1h1v-1zM763 170v1h1v-1zM764 168v2h1v-2zM765 167v1h1v-1zM766 166v1h1v-1zM767 165v1h1v-1zM768 165v1h1v-1zM769 164v1h1v-1zM770 163v1h1v-1zM771 163v1h1v-1zM772 163v1h1v-1zM773 163v1h1v-1zM774 163v1h1v-1zM775 163v1h1v-1zM776 163v1h1v-1zM777 164v1h1v-1zM778 164v1h1v-1zM779 164v1h1v-1zM780 164v1h1v-1zM781 165v1h1v-1zM782 165v1h1v-1zM783 165v1h1v-1zM784 166v1h1v-1zM785 166v1h1v-1zM786 167v1h1v-1zM787 167v1h1v-1zM788 167v1h1v-1zM789 168v1h1v-1zM790 168v1h1v-1zM791 168v1h1v-1zM792 169v1h1v-1zM793 169v1h1v-1zM794 170v1h1v-1zM795 171v1h1v-1zM796 172v1h1v-1zM797 173v1h1v-1zM798 174v1h1v-1zM799 175v1h1v-1zM800 176v1h1v-1zM801 177v1h1v-1zM802 178v1h1v-1zM803 179v1h1v-1zM804 180v2h1v-2zM805 182v1h1v-1zM806 183v1h1v-1zM807 184v2h1v-2zM808 186v2h1v-2zM809 188v2h1v-2zM810 190v1h1v-1zM811 191v2h1v-2zM812 193v1h1v-1zM813 194v2h1v-2zM814 196v2h1v-2zM815 198v2h1v-2zM816 200v3h1v-3zM817 203v2h1v-2zM818 205v3h1v-3zM819 208v2h1v-2zM820 210v2h1v-2zM821 212v2h1v-2zM822 214v2h1v-2zM823 216v2h1v-2zM824 218v2h1v-2zM825 220v2h1v-2zM826 222v1h1v-1zM827 223v2h1v-2zM828 225v1h1v-1zM829 226v2h1v-2zM830 228v1h1v-1zM831 229v2h1v-2zM832 231v2h1v-2zM833 233v2h1v-2zM834 235v2h1v-2zM835 237v2h1v-2zM836 239v2h1v-2zM837 241v2h1v-2zM838 243v1h1v-1zM839 244v2h1v-2zM840 246v1h1v-1zM841 247v2h1v-2zM842 249v1h1v-1zM843 250v2h1v-2zM844 252v2h1v-2zM845 254v2h1v-2zM846 256v2h1v-2zM847 258v2h1v-2zM848 260v2h1v-2zM849 262v2h1v-2zM850 264v1h1v-1zM851 265v2h1v-2zM852 267v1h1v-1zM853 268v2h1v-2zM854 270v1h1v-1zM855 271v2h1v-2zM856 273v1h1v-1zM857 274v2h1v-2zM858 276v1h1v-1zM859 277v2h1v-2zM860 279v2h1v-2zM861 281v2h1v-2zM862 283v1h1v-1zM863 284v1h1v-1zM864 285v1h1v-1zM865 286v1h1v-1zM866 287v1h1v-1zM867 288v1h1v-1zM868 289v1h1v-1zM869 290v1h1v-1zM870 291v1h1v-1zM871 292v1h1v-1zM872 293v2h1v-2zM873 295v1h1v-1zM874 296v1h1v-1zM875 297v1h1v-1zM876 298v1h1v-1zM877 299v1h1v-1zM878 300v1h1v-1zM879 300v1h1v-1zM880 300v1h1v-1zM881 301v1h1v-1zM882 301v1h1v-1zM883 301v1h1v-1zM884 301v1h1v-1zM885 302v1h1v-1zM886 302v1h1v-1zM887 302v1h1v-1zM888 302v1h1v-1zM889 302v1h1v-1zM890 302v1h1v-1zM891 302v1h1v-1zM892 302v1h1v-1zM893 302v1h1v-1zM894 302v1h1v-1zM895 302v1h1v-1zM896 302v1h1v-1zM897 302v1h1v-1zM898 302v1h1v-1zM899 302v1h1v-1zM900 301v1h1v-1zM901 301v1h1v-1zM902 300v1h1v-1zM903 300v1h1v-1zM904 300v1h1v-1zM905 299v1h1v-1zM906 299v1h1v-1zM907 299v1h1v-1zM908 298v1h1v-1zM909 298v1h1v-1zM910 297v1h1v-1zM911 296v1h1v-1zM912 295v1h1v-1zM913 294v1h1v-1zM914 293v1h1v-1zM915 292v1h1v-1zM916 290v2h1v-2zM917 289v1h1v-1zM918 288v1h1v-1zM919 287v1h1v-1zM920 285v2h1v-2zM921 284v1h1v-1zM922 283v1h1v-1z"/>
<path fill="#ff0000" d="M2 146v1h1v-1zM3 147v2h1v-2zM4 149v2h1v-2zM5 151v2h1v-2zM6 153v1h1v-1zM7 154v1h1v-1zM8 155v2h1v-2zM9 157v1h1v-1zM10 158v1h1v-1zM11 159v2h1v-2zM12 161v1h1v-1zM13 162v2h1v-2zM14 164v1h1v-1zM15 165v1h1v-1zM16 166v2h1v-2zM17 168v1h1v-1zM18 169v1h1v-1zM19 170v2h1v-2zM20 172v1h1v-1zM21 173v2h1v-2zM22 175v1h1v-1zM23 176v2h1v-2zM24 178v2h1v-2zM25 180v2h1v-2zM26 182v1h1v-1zM27 182v1h1v-1zM28 182v1h1v-1zM29 183v1h1v-1zM30 183v1h1v-1zM31 183v1h1v-1zM32 183v1h1v-1zM33 182v1h1v-1zM34 182v1h1v-1zM35 182v1h1v-1zM36 182v1h1v-1zM37 183v1h1v-1zM38 183v1h1v-1zM39 183v1h1v-1zM40 184v1h1v-1zM41 184v1h1v-1zM42 185v1h1v-1zM43 185v1h1v-1zM44 186v1h1v-1zM45 186v1h1v-1zM46 187v1h1v-1zM47 187v1h1v-1zM48 188v1h1v-1zM49 188v1h1v-1zM50 189v1h1v-1zM51 189v1h1v-1zM52 190v1h1v-1zM53 190v1h1v-1zM54 191v1h1v-1zM55 191v1h1v-1zM56 191v1h1v-1zM57 192v1h1v-1zM58 192v1h1v-1zM59 192v1h1v-1zM60 192v1h1v-1zM61 191v1h1v-1zM62 191v1h1v-1zM63 191v1h1v-1zM64 191v1h1v-1zM65 190v1h1v-1zM66 190v1h1v-1zM67 190v1h1v-1zM68 190v1h1v-1zM69 189v1h1v-1zM70 189v1h1v-1zM71 189v1h1v-1zM72 189v1h1v-1zM73 190v1h1v-1zM74 190v1h1v-1zM75 190v1h1v-1zM76 191v1h1v-1zM77 191v1h1v-1zM78 192v1h1v-1zM79 192v1h1v-1zM80 193v1h1v-1zM81 193v1h1v-1zM82 194v1h1v-1zM83 195v1h1v-1zM84 196v2h1v-2zM85 198v1h1v-1zM86 199v2h1v-2zM87 201v2h1v-2zM88 203v2h1v-2zM89 205v2h1v-2zM90 207v2h1v-2zM91 209v1h1v-1zM92 210v2h1v-2zM93 212v1h1v-1zM94 213v1h1v-1zM95 214v2h1v-2zM96 216v1h1v-1zM97 217v2h1v-2zM98 219v1h1v-1zM99 220v1h1v-1zM100 221v1h1v-1zM101 222v1h1v-1zM102 223v1h1v-1zM103 224v1h1v-1zM104 225v1h1v-1zM105 226v1h1v-1zM106 227v1h1v-1zM107 228v1h1v-1zM108 229v2h1v-2zM109 231v1h1v-1zM110 232v1h1v-1zM111 233v1h1v-1zM112 234v1h1v-1zM113 235v1h1v-1zM114 236v1h1v-1zM115 237v1h1v-1zM116 237v1h1v-1zM117 238v1h1v-1zM118 239v1h1v-1zM119 239v1h1v-1zM120 239v1h1v-1zM121 240v1h1v-1zM122 240v1h1v-1zM123 240v1h1v-1zM124 241v1h1v-1zM125 241v1h1v-1zM126 242v1h1v-1zM127 242v1h1v-1zM128 242v1h1v-1zM129 241v1h1v-1zM130 241v1h1v-1zM131 240v1h1v-1zM132 240v1h1v-1zM133 239v1h1v-1zM134 238v1h1v-1zM135 237v1h1v-1zM136 235v2h1v-2zM137 234v1h1v-1zM138 233v1h1v-1zM139 233v1h1v-1zM140 232v1h1v-1zM141 232v1h1v-1zM142 231v1h1v-1zM143 230v1h1v-1zM144 229v1h1v-1zM145 228v1h1v-1zM146 227v1h1v-1zM147 227v1h1v-1zM148 226v1h1v-1zM149 226v1h1v-1zM150 225v1h1v-1zM151 224v1h1v-1zM152 222v2h1v-2zM153 221v1h1v-1zM154 220v1h1v-1zM155 220v1h1v-1zM156 220v1h1v-1zM157 220v1h1v-1zM158 220v1h1v-1zM159 220v1h1v-1zM160 220v1h1v-1zM161 219v1h1v-1zM162 219v1h1v-1zM163 218v1h1v-1zM164 218v1h1v-1zM165 217v1h1v-1zM166 216v1h1v-1zM167 216v1h1v-1zM168 216v1h1v-1zM169 215v1h1v-1zM170 215v1h1v-1zM171 215v1h1v-1zM172 215v1h1v-1zM173 215v1h1v-1zM174 215v1h1v-1zM175 216v1h1v-1zM176 216v1h1v-1zM177 217v1h1v-1zM178 218v1h1v-1zM179 218v1h1v-1zM180 218v1h1v-1zM181 219v1h1v-1zM182 219v1h1v-1zM183 219v1h1v-1zM184 220v1h1v-1zM185 220v1h1v-1zM186 221v1h1v-1zM187 221v1h1v-1zM188 222v1h1v-1zM189 222v1h1v-1zM190 223v1h1v-1zM191 224v1h1v-1zM192 224v1h1v-1zM193 225v1h1v-1zM194 226v1h1v-1zM195 226v1h1v-1zM196 227v1h1v-1zM197 227v1h1v-1zM198 228v1h1v-1zM199 228v1h1v-1zM200 229v1h1v-1zM201 229v1h1v-1zM202 230v1h1v-1zM203 230v1h1v-1zM204 230v1h1v-1zM205 231v1h1v-1zM206 231v1h1v-1zM207 231v1h1v-1zM208 231v1h1v-1zM209 230v1h1v-1zM210 230v1h1v-1zM211 230v1h1v-1zM212 230v1h1v-1zM213 231v1h1v-1zM214 231v1h1v-1zM215 231v1h1v-1zM216 232v1h1v-1zM217 232v1h1v-1zM218 233v1h1v-1zM219 234v1h1v-1zM220 235v1h1v-1zM221 236v1h1v-1zM222 237v1h1v-1zM223 238v1h1v-1zM224 238v1h1v-1zM225 239v1h1v-1zM226 240v1h1v-1zM227 241v1h1v-1zM228 242v2h1v-2zM229 244v1h1v-1zM230 245v1h1v-1zM231 246v1h1v-1zM232 247v1h1v-1zM233 248v1h1v-1zM234 249v1h1v-1zM235 250v2h1v-2zM236 252v2h1v-2zM237 254v2h1v-2zM238 256v1h1v-1zM239 257v2h1v-2zM240 259v2h1v-2zM241 261v2h1v-2zM242 263v2h1v-2zM243 265v2h1v-2zM244 267v2h1v-2zM245 269v2h1v-2zM246 271v2h1v-2zM247 273v2h1v-2zM248 275v2h1v-2zM249 277v2h1v-2zM250 279v1h1v-1zM251 280v2h1v-2zM252 282v2h1v-2zM253 284v2h1v-2zM254 286v1h1v-1zM255 287v2h1v-2zM256 289v1h1v-1zM257 290v2h1v-2zM258 292v2h1v-2zM259 294v2h1v-2zM260 296v2h1v-2zM261 298v2h1v-2zM262 300v3h1v-3zM263 303v3h1v-3zM264 306v3h1v-3zM265 309v3h1v-3zM266 312v3h1v-3zM267 315v3h1v-3zM268 318v2h1v-2zM269 320v3h1v-3zM270 323v3h1v-3zM271 326v3h1v-3zM272 329v3h1v-3zM273 332v3h1v-3zM274 335v3h1v-3zM275 338v3h1v-3zM276 341v4h1v-4zM277 345v3h1v-3zM278 348v3h1v-3zM279 351v3h1v-3zM280 354v3h1v-3zM281 357v3h1v-3zM282 360v3h1v-3zM283 363v2h1v-2zM284 365v3h1v-3zM285 368v2h1v-2zM286 370v3h1v-3zM287 373v2h1v-2zM288 375v2h1v-2zM289 377v2h1v-2zM290 379v1h1v-1zM291 380v2h1v-2zM292 382v2h1v-2zM293 384v2h1v-2zM294 386v1h1v-1zM295 387v2h1v-2zM296 389v1h1v-1zM297 390v2h1v-2zM298 392v1h1v-1zM299 393v2h1v-2zM300 395v2h1v-2zM301 397v2h1v-2zM302 399v2h1v-2zM303 401v2h1v-2zM304 403v2h1v-2zM305 405v2h1v-2zM306 407v1h1v-1zM307 408v2h1v-2zM308 410v1h1v-1zM309 411v2h1v-2zM310 413v2h1v-2zM311 415v2h1v-2zM312 417v2h1v-2zM313 419v2h1v-2zM314 421v1h1v-1zM315 422v2h1v-2zM316 424v1h1v-1zM317 425v2h1v-2zM318 427v1h1v-1zM319 428v1h1v-1zM320 429v2h1v-2zM321 431v1h1v-1zM322 432v1h1v-1zM323 432v1h1v-1zM324 432v1h1v-1zM325 433v1h1v-1zM326 433v1h1v-1zM327 434v1h1v-1zM328 434v1h1v-1zM329 435v1h1v-1zM330 436v1h1v-1zM331 436v1h1v-1zM332 436v1h1v-1zM333 435v1h1v-1zM334 435v1h1v-1zM335 435v1h1v-1zM336 435v1h1v-1zM337 435v1h1v-1zM338 435v1h1v-1zM339 435v1h1v-1zM340 435v1h1v-1zM341 436v1h1v-1zM342 436v1h1v-1zM343 436v1h1v-1zM344 437v1h1v-1zM345 437v1h1v-1zM346 438v1h1v-1zM347 438v1h1v-1zM348 439v1h1v-1zM349 439v1h1v-1zM350 440v1h1v-1zM351 440v1h1v-1zM352 441v1h1v-1zM353 441v1h1v-1zM354 442v1h1v-1zM355 442v1h1v-1zM356 442v1h1v-1zM357 443v1h1v-1zM358 443v1h1v-1zM359 443v1h1v-1zM360 442v1h1v-1zM361 442v1h1v-1zM362 441v1h1v-1zM363 441v1h1v-1zM364 441v1h1v-1zM365 441v1h1v-1zM366 441v1h1v-1zM367 441v1h1v-1zM368 441v1h1v-1zM369 440v1h1v-1zM370 440v1h1v-1zM371 440v1h1v-1zM372 440v1h1v-1zM373 441v1h1v-1zM374 441v1h1v-1zM375 441v1h1v-1zM376 441v1h1v-1zM377 440v1h1v-1zM378 440v1h1v-1zM379 440v1h1v-1zM380 440v1h1v-1zM381 439v1h1v-1zM382 439v1h1v-1zM383 439v1h1v-1zM384 439v1h1v-1zM385 438v1h1v-1zM386 438v1h1v-1zM387 438v1h1v-1zM388 438v1h1v-1zM389 437v1h1v-1zM390 437v1h1v-1zM391 436v1h1v-1zM392 435v1h1v-1zM393 434v1h1v-1zM394 433v1h1v-1zM395 433v1h1v-1zM396 433v1h1v-1zM397 432v1h1v-1zM398 432v1h1v-1zM399 431v1h1v-1zM400 430v1h1v-1zM401 429v1h1v-1zM402 428v1h1v-1zM403 427v1h1v-1zM404 427v1h1v-1zM405 426v1h1v-1zM406 424v2h1v-2zM407 422v2h1v-2zM408 419v3h1v-3zM409 417v2h1v-2zM410 414v3h1v-3zM411 411v3h1v-3zM412 407v4h1v-4zM413 404v3h1v-3zM414 401v3h1v-3zM415 399v2h1v-2zM416 396v3h1v-3zM417 394v2h1v-2zM418 391v3h1v-3zM419 389v2h1v-2zM420 387v2h1v-2zM421 385v2h1v-2zM422 382v3h1v-3zM423 380v2h1v-2zM424 378v2h1v-2zM425 376v2h1v-2zM426 373v3h1v-3zM427 371v2h1v-2zM428 369v2h1v-2zM429 367v2h1v-2zM430 366v1h1v-1zM431 364v2h1v-2zM432 362v2h1v-2zM433 360v2h1v-2zM434 359v1h1v-1zM435 357v2h1v-2zM436 356v1h1v-1zM437 354v2h1v-2zM438 353v1h1v-1zM439 351v2h1v-2zM440 349v2h1v-2zM441 347v2h1v-2zM442 346v1h1v-1zM443 344v2h1v-2zM444 343v1h1v-1zM445 341v2h1v-2zM446 340v1h1v-1zM447 338v2h1v-2zM448 337v1h1v-1zM449 335v2h1v-2zM450 333v2h1v-2zM451 331v2h1v-2zM452 329v2h1v-2zM453 327v2h1v-2zM454 325v2h1v-2zM455 323v2h1v-2zM456 321v2h1v-2zM457 319v2h1v-2zM458 318v1h1v-1zM459 316v2h1v-2zM460 315v1h1v-1zM461 313v2h1v-2zM462 312v1h1v-1zM463 312v1h1v-1zM464 313v1h1v-1zM465 313v1h1v-1zM466 314v1h1v-1zM467 315v1h1v-1zM468 315v1h1v-1zM469 316v1h1v-1zM470 317v1h1v-1zM471 317v1h1v-1zM472 317v1h1v-1zM473 316v1h1v-1zM474 316v1h1v-1zM475 315v1h1v-1zM476 313v2h1v-2zM477 312v1h1v-1zM478 311v1h1v-1zM479 310v1h1v-1zM480 308v2h1v-2zM481 307v1h1v-1zM482 306v1h1v-1zM483 304v2h1v-2zM484 303v1h1v-1zM485 301v2h1v-2zM486 300v1h1v-1zM487 299v1h1v-1zM488 298v1h1v-1zM489 297v1h1v-1zM490 296v1h1v-1zM491 295v1h1v-1zM492 293v2h1v-2zM493 292v1h1v-1zM494 291v1h1v-1zM495 289v2h1v-2zM496 287v2h1v-2zM497 285v2h1v-2zM498 284v1h1v-1zM499 282v2h1v-2zM500 281v1h1v-1zM501 279v2h1v-2zM502 278v1h1v-1zM503 276v2h1v-2zM504 274v2h1v-2zM505 272v2h1v-2zM506 271v1h1v-1zM507 269v2h1v-2zM508 268v1h1v-1zM509 266v2h1v-2zM510 265v1h1v-1zM511 263v2h1v-2zM512 262v1h1v-1zM513 260v2h1v-2zM514 258v2h1v-2zM515 254v4h1v-4zM516 251v3h1v-3zM517 247v4h1v-4zM518 244v3h1v-3zM519 241v3h1v-3zM520 237v4h1v-4zM521 234v3h1v-3zM522 232v2h1v-2zM523 230v2h1v-2zM524 228v2h1v-2zM525 226v2h1v-2zM526 225v1h1v-1zM527 224v1h1v-1zM528 224v1h1v-1zM529 223v1h1v-1zM530 222v1h1v-1zM531 221v1h1v-1zM532 221v1h1v-1zM533 220v1h1v-1zM534 219v1h1v-1zM535 219v1h1v-1zM536 219v1h1v-1zM537 218v1h1v-1zM538 218v1h1v-1zM539 218v1h1v-1zM540 217v1h1v-1zM541 217v1h1v-1zM542 216v1h1v-1zM543 215v1h1v-1zM544 214v1h1v-1zM545 213v1h1v-1zM546 212v1h1v-1zM547 211v1h1v-1zM548 211v1h1v-1zM549 210v1h1v-1zM550 209v1h1v-1zM551 209v1h1v-1zM552 210v1h1v-1zM553 210v1h1v-1zM554 211v1h1v-1zM555 211v1h1v-1zM556 212v1h1v-1zM557 212v1h1v-1zM558 213v1h1v-1zM559 214v1h1v-1zM560 214v1h1v-1zM561 215v1h1v-1zM562 216v1h1v-1zM563 217v1h1v-1zM564 217v1h1v-1zM565 218v1h1v-1zM566 219v1h1v-1zM567 219v1h1v-1zM568 220v1h1v-1zM569 220v1h1v-1zM570 221v1h1v-1zM571 222v2h1v-2zM572 224v1h1v-1zM573 225v2h1v-2zM574 227v1h1v-1zM575 228v2h1v-2zM576 230v2h1v-2zM577 232v2h1v-2zM578 234v1h1v-1zM579 234v1h1v-1zM580 234v1h1v-1zM581 234v1h1v-1zM582 234v1h1v-1zM583 234v1h1v-1zM584 234v1h1v-1zM585 234v1h1v-1zM586 234v1h1v-1zM587 234v1h1v-1zM588 234v1h1v-1zM589 235v1h1v-1zM590 235v1h1v-1zM591 235v1h1v-1zM592 235v1h1v-1zM593 236v1h1v-1zM594 236v1h1v-1zM595 236v1h1v-1zM596 236v1h1v-1zM597 237v1h1v-1zM598 237v1h1v-1zM599 237v1h1v-1zM600 238v1h1v-1zM601 238v1h1v-1zM602 239v1h1v-1zM603 239v1h1v-1zM604 240v1h1v-1zM605 240v1h1v-1zM606 241v1h1v-1zM607 240v1h1v-1zM608 240v1h1v-1zM609 239v1h1v-1zM610 238v1h1v-1zM611 237v1h1v-1zM612 237v1h1v-1zM613 236v1h1v-1zM614 235v1h1v-1zM615 234v1h1v-1zM616 232v2h1v-2zM617 231v1h1v-1zM618 230v1h1v-1zM619 229v1h1v-1zM620 228v1h1v-1zM621 227v1h1v-1zM622 225v2h1v-2zM623 223v2h1v-2zM624 221v2h1v-2zM625 219v2h1v-2zM626 217v2h1v-2zM627 215v2h1v-2zM628 212v3h1v-3zM629 210v2h1v-2zM630 207v3h1v-3zM631 204v3h1v-3zM632 202v2h1v-2zM633 199v3h1v-3zM634 197v2h1v-2zM635 196v1h1v-1zM636 195v1h1v-1zM637 194v1h1v-1zM638 193v1h1v-1zM639 193v1h1v-1zM640 193v1h1v-1zM641 192v1h1v-1zM642 192v1h1v-1zM643 192v1h1v-1zM644 191v1h1v-1zM645 191v1h1v-1zM646 190v1h1v-1zM647 189v1h1v-1zM648 188v1h1v-1zM649 187v1h1v-1zM650 186v1h1v-1zM651 185v1h1v-1zM652 185v1h1v-1zM653 184v1h1v-1zM654 183v1h1v-1zM655 182v1h1v-1zM656 182v1h1v-1zM657 181v1h1v-1zM658 180v1h1v-1zM659 179v1h1v-1zM660 179v1h1v-1zM661 178v1h1v-1zM662 177v1h1v-1zM663 176v1h1v-1zM664 175v1h1v-1zM665 174v1h1v-1zM666 173v1h1v-1zM667 173v1h1v-1zM668 173v1h1v-1zM669 172v1h1v-1zM670 172v1h1v-1zM671 172v1h1v-1zM672 173v1h1v-1zM673 173v1h1v-1zM674 174v1h1v-1zM675 175v1h1v-1zM676 175v1h1v-1zM677 176v1h1v-1zM678 177v2h1v-2zM679 179v2h1v-2zM680 181v2h1v-2zM681 183v2h1v-2zM682 185v3h1v-3zM683 188v3h1v-3zM684 191v2h1v-2zM685 193v3h1v-3zM686 196v2h1v-2zM687 198v2h1v-2zM688 200v2h1v-2zM689 202v2h1v-2zM690 204v1h1v-1zM691 204v1h1v-1zM692 204v1h1v-1zM693 203v1h1v-1zM694 203v1h1v-1zM695 203v1h1v-1zM696 203v1h1v-1zM697 202v1h1v-1zM698 202v1h1v-1zM699 202v1h1v-1zM700 202v1h1v-1zM701 202v1h1v-1zM702 202v1h1v-1zM703 202v1h1v-1zM704 202v1h1v-1zM705 202v1h1v-1zM706 202v1h1v-1zM707 202v1h1v-1zM708 202v1h1v-1zM709 201v1h1v-1zM710 201v1h1v-1zM711 201v1h1v-1zM712 200v1h1v-1zM713 200v1h1v-1zM714 199v1h1v-1zM715 199v1h1v-1zM716 199v1h1v-1zM717 198v1h1v-1zM718 198v1h1v-1zM719 198v1h1v-1zM720 197v1h1v-1zM721 197v1h1v-1zM722 196v1h1v-1zM723 195v1h1v-1zM724 194v1h1v-1zM725 193v1h1v-1zM726 192v1h1v-1zM727 190v2h1v-2zM728 189v1h1v-1zM729 187v2h1v-2zM730 185v2h1v-2zM731 183v2h1v-2zM732 180v3h1v-3zM733 178v2h1v-2zM734 175v3h1v-3zM735 173v2h1v-2zM736 171v2h1v-2zM737 169v2h1v-2zM738 168v1h1v-1zM739 166v2h1v-2zM740 164v2h1v-2zM741 162v2h1v-2zM742 161v1h1v-1zM743 161v1h1v-1zM744 161v1h1v-1zM745 160v1h1v-1zM746 160v1h1v-1zM747 160v1h1v-1zM748 160v1h1v-1zM749 160v1h1v-1zM750 160v1h1v-1zM751 160v1h1v-1zM752 160v1h1v-1zM753 160v1h1v-1zM754 160v1h1v-1zM755 160v1h1v-1zM756 160v1h1v-1zM757 160v1h1v-1zM758 160v1h1v-1zM759 160v1h1v-1zM760 159v1h1v-1zM761 159v1h1v-1zM762 158v1h1v-1zM763 157v1h1v-1zM764 157v1h1v-1zM765 156v1h1v-1zM766 155v1h1v-1zM767 155v1h1v-1zM768 155v1h1v-1zM769 155v1h1v-1zM770 155v1h1v-1zM771 155v1h1v-1zM772 155v1h1v-1zM773 155v1h1v-1zM774 155v1h1v-1zM775 155v1h1v-1zM776 155v1h1v-1zM777 156v1h1v-1zM778 156v1h1v-1zM779 157v1h1v-1zM780 158v2h1v-2zM781 160v1h1v-1zM782 161v1h1v-1zM783 162v2h1v-2zM784 164v2h1v-2zM785 166v2h1v-2zM786 168v1h1v-1zM787 169v2h1v-2zM788 171v1h1v-1zM789 172v2h1v-2zM790 174v2h1v-2zM791 176v2h1v-2zM792 178v2h1v-2zM793 180v2h1v-2zM794 182v2h1v-2zM795 184v2h1v-2zM796 186v2h1v-2zM797 188v2h1v-2zM798 190v1h1v-1zM799 191v2h1v-2zM800 193v2h1v-2zM801 195v2h1v-2zM802 197v1h1v-1zM803 198v2h1v-2zM804 200v2h1v-2zM805 202v2h1v-2zM806 204v1h1v-1zM807 205v2h1v-2zM808 207v2h1v-2zM809 209v2h1v-2zM810 211v1h1v-1zM811 212v2h1v-2zM812 214v1h1v-1zM813 215v2h1v-2zM814 217v2h1v-2zM815 219v3h1v-3zM816 222v2h1v-2zM817 224v3h1v-3zM818 227v3h1v-3zM819 230v3h1v-3zM820 233v3h1v-3zM821 236v3h1v-3zM822 239v3h1v-3zM823 242v2h1v-2zM824 244v2h1v-2zM825 246v2h1v-2zM826 248v3h1v-3zM827 251v2h1v-2zM828 253v3h1v-3zM829 256v2h1v-2zM830 258v3h1v-3zM831 261v2h1v-2zM832 263v2h1v-2zM833 265v2h1v-2zM834 267v3h1v-3zM835 270v2h1v-2zM836 272v2h1v-2zM837 274v2h1v-2zM838 276v1h1v-1zM839 277v2h1v-2zM840 279v2h1v-2zM841 281v2h1v-2zM842 283v1h1v-1zM843 284v2h1v-2zM844 286v2h1v-2zM845 288v2h1v-2zM846 290v1h1v-1zM847 291v2h1v-2zM848 293v1h1v-1zM849 294v2h1v-2zM850 296v1h1v-1zM851 297v1h1v-1zM852 297v1h1v-1zM853 298v1h1v-1zM854 299v1h1v-1zM855 299v1h1v-1zM856 300v1h1v-1zM857 300v1h1v-1zM858 301v1h1v-1zM859 302v1h1v-1zM860 303v1h1v-1zM861 304v1h1v-1zM862 305v1h1v-1zM863 306v1h1v-1zM864 306v1h1v-1zM865 307v1h1v-1zM866 308v1h1v-1zM867 308v1h1v-1zM868 309v1h1v-1zM869 309v1h1v-1zM870 310v1h1v-1zM871 310v1h1v-1zM872 310v1h1v-1zM873 309v1h1v-1zM874 309v1h1v-1zM875 309v1h1v-1zM876 310v1h1v-1zM877 310v1h1v-1zM878 311v1h1v-1zM879 311v1h1v-1zM880 310v1h1v-1zM881 310v1h1v-1zM882 309v1h1v-1zM883 309v1h1v-1zM884 308v1h1v-1zM885 308v1h1v-1zM886 307v1h1v-1zM887 306v1h1v-1zM888 306v1h1v-1zM889 305v1h1v-1zM890 304v1h1v-1zM891 303v1h1v-1zM892 302v1h1v-1zM893 301v1h1v-1zM894 300v1h1v-1zM895 299v1h1v-1zM896 298v1h1v-1zM897 297v1h1v-1zM898 296v1h1v-1zM899 296v1h1v-1zM900 296v1h1v-1zM901 295v1h1v-1zM902 295v1h1v-1zM903 294v1h1v-1zM904 294v1h1v-1zM905 293v1h1v-1zM906 292v1h1v-1zM907 291v1h1v-1zM908 291v1h1v-1zM909 290v1h1v-1zM910 289v1h1v-1zM911 287v2h1v-2zM912 286v1h1v-1zM913 284v2h1v-2zM914 283v1h1v-1zM915 281v2h1v-2zM916 279v2h1v-2zM917 277v2h1v-2zM918 276v1h1v-1zM919 274v2h1v-2zM920 272v2h1v-2zM921 270v2h1v-2zM922 269v1h1v-1z"/>
</g>
<g shape-rendering="crispEdges">
<path fill="#32cd32" d="M2 140h1v35h-1zM6 148h1v54h-1zM18 182h1v28h-1zM22 197h1v29h-1zM26 219h1v45h-1zM38 143h1v40h-1zM42 159h1v37h-1zM50 171h1v32h-1zM58 161h1v21h-1zM66 165h1v43h-1zM70 166h1v33h-1zM74 175h1v45h-1zM78 213h1v40h-1zM82 247h1v20h-1zM90 249h1v24h-1zM98 252h1v59h-1zM106 243h1v14h-1zM126 193h1v28h-1zM142 184h1v47h-1zM146 203h1v21h-1zM150 217h1v13h-1zM158 206h1v43h-1zM170 188h1v28h-1zM174 199h1v32h-1zM178 229h1v9h-1zM186 191h1v42h-1zM190 226h1v18h-1zM198 221h1v31h-1zM214 179h1v89h-1zM226 245h1v18h-1zM230 254h1v48h-1zM234 285h1v15h-1zM238 286h1v31h-1zM242 314h1v35h-1zM246 329h1v26h-1zM250 342h1v10h-1zM254 331h1v24h-1zM262 329h1v33h-1zM266 346h1v48h-1zM270 386h1v32h-1zM278 416h1v22h-1zM294 383h1v55h-1zM298 418h1v9h-1zM302 413h1v30h-1zM306 438h1v32h-1zM314 409h1v44h-1zM322 431h1v16h-1zM330 436h1v27h-1zM338 411h1v38h-1zM346 433h1v10h-1zM350 433h1v15h-1zM354 442h1v31h-1zM366 415h1v28h-1zM370 434h1v9h-1zM374 427h1v21h-1zM386 419h1v25h-1zM398 397h1v20h-1zM406 383h1v18h-1zM418 275h1v11h-1zM422 255h1v55h-1zM426 292h1v24h-1zM430 310h1v52h-1zM438 321h1v31h-1zM462 271h1v49h-1zM466 315h1v20h-1zM486 223h1v42h-1zM490 256h1v15h-1zM522 119h1v30h-1zM526 144h1v94h-1zM538 210h1v7h-1zM542 208h1v29h-1zM550 201h1v24h-1zM554 202h1v76h-1zM578 224h1v37h-1zM586 218h1v9h-1zM594 208h1v32h-1zM598 227h1v27h-1zM606 234h1v15h-1zM634 89h1v8h-1zM638 100h1v77h-1zM642 171h1v43h-1zM654 155h1v43h-1zM662 188h1v28h-1zM670 187h1v26h-1zM674 186h1v40h-1zM678 219h1v33h-1zM682 236h1v12h-1zM698 146h1v36h-1zM702 172h1v40h-1zM710 161h1v26h-1zM718 154h1v35h-1zM738 91h1v49h-1zM742 101h1v47h-1zM746 115h1v74h-1zM754 170h1v12h-1zM758 170h1v30h-1zM770 125h1v66h-1zM774 141h1v43h-1zM778 175h1v17h-1zM782 179h1v45h-1zM786 190h1v39h-1zM794 193h1v39h-1zM798 220h1v52h-1zM802 252h1v17h-1zM806 255h1v19h-1zM810 249h1v28h-1zM818 271h1v44h-1zM826 295h1v8h-1zM830 290h1v27h-1zM834 301h1v34h-1zM838 308h1v24h-1zM850 299h1v13h-1zM862 280h1v60h-1zM874 291h1v17h-1zM878 293h1v24h-1zM886 268h1v27h-1zM894 258h1v20h-1zM902 264h1v15h-1zM910 261h1v40h-1zM918 201h1v27h-1zM922 214h1v14h-1zM1 146h3v4h-3zM5 149h3v51h-3zM17 197h3v8h-3zM21 204h3v16h-3zM25 219h3v23h-3zM37 144h3v34h-3zM41 178h3v17h-3zM49 191h3v9h-3zM57 165h3v10h-3zM65 175h3v10h-3zM69 184h3v2h-3zM73 185h3v34h-3zM77 218h3v33h-3zM81 250h3v14h-3zM89 253h3v19h-3zM97 259h3v20h-3zM105 244h3v8h-3zM125 198h3v18h-3zM141 191h3v26h-3zM145 216h3v2h-3zM149 217h3v13h-3zM157 217h3v27h-3zM169 197h3v18h-3zM173 214h3v17h-3zM177 229h3v8h-3zM185 223h3v8h-3zM189 230h3v13h-3zM197 231h3v19h-3zM213 215h3v41h-3zM225 251h3v10h-3zM229 256h3v40h-3zM233 295h3v1h-3zM237 295h3v20h-3zM241 314h3v28h-3zM245 342h3v2h-3zM249 343h3v4h-3zM253 346h3v5h-3zM261 330h3v26h-3zM265 356h3v32h-3zM269 387h3v26h-3zM277 417h3v20h-3zM293 409h3v14h-3zM297 423h3v2h-3zM301 421h3v21h-3zM305 441h3v7h-3zM313 434h3v19h-3zM321 442h3v5h-3zM329 437h3v7h-3zM337 424h3v18h-3zM345 435h3v4h-3zM349 440h3v4h-3zM353 443h3v18h-3zM365 422h3v14h-3zM369 435h3v7h-3zM373 439h3v8h-3zM385 429h3v3h-3zM397 403h3v13h-3zM405 383h3v18h-3zM417 277h3v6h-3zM421 273h3v35h-3zM425 307h3v3h-3zM429 310h3v36h-3zM437 322h3v21h-3zM461 291h3v28h-3zM465 318h3v14h-3zM485 233h3v27h-3zM489 259h3v11h-3zM521 135h3v13h-3zM525 147h3v83h-3zM537 212h3v4h-3zM541 217h3v15h-3zM549 211h3v9h-3zM553 220h3v56h-3zM577 225h3v31h-3zM585 220h3v3h-3zM593 216h3v19h-3zM597 234h3v10h-3zM605 240h3v4h-3zM633 89h3v4h-3zM637 100h3v73h-3zM641 173h3v25h-3zM653 179h3v19h-3zM661 197h3v5h-3zM669 190h3v7h-3zM673 197h3v25h-3zM677 220h3v19h-3zM681 238h3v5h-3zM697 167h3v14h-3zM701 181h3v8h-3zM709 165h3v20h-3zM717 174h3v6h-3zM737 104h3v15h-3zM741 118h3v26h-3zM745 143h3v34h-3zM753 171h3v5h-3zM757 178h3v7h-3zM769 136h3v36h-3zM773 171h3v7h-3zM777 177h3v11h-3zM781 194h3v22h-3zM785 215h3v7h-3zM793 197h3v32h-3zM797 228h3v32h-3zM801 259h3v9h-3zM805 259h3v9h-3zM809 268h3v8h-3zM817 271h3v41h-3zM825 300h3v2h-3zM829 309h3v3h-3zM833 311h3v5h-3zM837 315h3v13h-3zM849 301h3v9h-3zM861 300h3v23h-3zM873 294h3v12h-3zM877 301h3v14h-3zM885 285h3v1h-3zM893 266h3v10h-3zM901 271h3v3h-3zM909 267h3v9h-3zM917 212h3v5h-3zM921 216h3v9h-3z"/>
<path fill="#ff0000" d="M10 191h1v15h-1zM14 179h1v34h-1zM30 166h1v78h-1zM34 145h1v35h-1zM46 178h1v30h-1zM54 142h1v74h-1zM62 158h1v36h-1zM86 243h1v33h-1zM94 253h1v26h-1zM102 227h1v58h-1zM110 230h1v32h-1zM114 206h1v40h-1zM118 200h1v38h-1zM122 191h1v39h-1zM130 200h1v16h-1zM134 191h1v23h-1zM138 182h1v31h-1zM154 216h1v9h-1zM162 213h1v32h-1zM166 188h1v44h-1zM182 216h1v21h-1zM194 214h1v46h-1zM202 245h1v7h-1zM206 232h1v31h-1zM210 209h1v50h-1zM218 234h1v28h-1zM222 244h1v19h-1zM258 316h1v39h-1zM274 403h1v11h-1zM282 418h1v22h-1zM286 415h1v40h-1zM290 404h1v26h-1zM310 419h1v34h-1zM318 432h1v31h-1zM326 436h1v17h-1zM334 419h1v37h-1zM342 420h1v28h-1zM358 433h1v28h-1zM362 421h1v42h-1zM378 429h1v21h-1zM382 422h1v28h-1zM390 401h1v39h-1zM394 395h1v9h-1zM402 383h1v34h-1zM410 314h1v91h-1zM414 258h1v64h-1zM434 321h1v27h-1zM442 335h1v9h-1zM446 318h1v27h-1zM450 296h1v33h-1zM454 284h1v30h-1zM458 281h1v29h-1zM470 307h1v22h-1zM474 251h1v88h-1zM478 240h1v44h-1zM482 208h1v64h-1zM494 242h1v31h-1zM498 231h1v44h-1zM502 237h1v47h-1zM506 210h1v42h-1zM510 197h1v25h-1zM514 198h1v16h-1zM518 110h1v88h-1zM530 206h1v31h-1zM534 200h1v26h-1zM546 206h1v27h-1zM558 255h1v29h-1zM562 254h1v11h-1zM566 247h1v23h-1zM570 214h1v41h-1zM574 219h1v24h-1zM582 212h1v44h-1zM590 210h1v26h-1zM602 238h1v17h-1zM610 240h1v7h-1zM614 211h1v33h-1zM618 188h1v32h-1zM622 181h1v24h-1zM626 105h1v93h-1zM630 46h1v73h-1zM646 184h1v26h-1zM650 178h1v32h-1zM658 194h1v8h-1zM666 179h1v39h-1zM686 222h1v18h-1zM690 184h1v57h-1zM694 130h1v66h-1zM706 174h1v18h-1zM714 165h1v39h-1zM722 159h1v34h-1zM726 130h1v58h-1zM730 132h1v16h-1zM734 70h1v62h-1zM750 145h1v42h-1zM762 155h1v52h-1zM766 132h1v42h-1zM790 182h1v41h-1zM814 258h1v22h-1zM822 298h1v26h-1zM842 314h1v31h-1zM846 300h1v30h-1zM854 298h1v25h-1zM858 294h1v23h-1zM866 302h1v31h-1zM870 291h1v37h-1zM882 283h1v33h-1zM890 262h1v42h-1zM898 267h1v12h-1zM906 255h1v27h-1zM914 207h1v75h-1zM9 194h3v6h-3zM13 197h3v2h-3zM29 177h3v66h-3zM33 155h3v23h-3zM45 191h3v4h-3zM53 164h3v36h-3zM61 175h3v8h-3zM85 253h3v7h-3zM93 260h3v12h-3zM101 244h3v35h-3zM109 236h3v2h-3zM113 227h3v10h-3zM117 225h3v3h-3zM121 197h3v29h-3zM129 206h3v9h-3zM133 207h3v6h-3zM137 192h3v16h-3zM153 217h3v3h-3zM161 230h3v14h-3zM165 197h3v34h-3zM181 223h3v12h-3zM193 230h3v14h-3zM201 248h3v2h-3zM205 232h3v10h-3zM209 215h3v18h-3zM217 253h3v3h-3zM221 251h3v3h-3zM257 330h3v21h-3zM273 411h3v3h-3zM281 433h3v4h-3zM285 428h3v5h-3zM289 408h3v21h-3zM309 434h3v14h-3zM317 442h3v11h-3zM325 437h3v3h-3zM333 423h3v20h-3zM341 435h3v6h-3zM357 453h3v7h-3zM361 422h3v31h-3zM377 429h3v18h-3zM381 428h3v2h-3zM389 402h3v31h-3zM393 399h3v4h-3zM401 383h3v33h-3zM409 315h3v86h-3zM413 277h3v39h-3zM433 322h3v24h-3zM441 336h3v7h-3zM445 328h3v14h-3zM449 304h3v24h-3zM453 292h3v13h-3zM457 291h3v2h-3zM469 325h3v2h-3zM473 265h3v61h-3zM477 245h3v20h-3zM481 233h3v12h-3zM493 269h3v2h-3zM497 244h3v26h-3zM501 238h3v7h-3zM505 211h3v28h-3zM509 209h3v4h-3zM513 200h3v10h-3zM517 134h3v61h-3zM529 213h3v17h-3zM533 211h3v3h-3zM545 212h3v20h-3zM557 265h3v11h-3zM561 258h3v7h-3zM565 248h3v15h-3zM569 226h3v22h-3zM573 220h3v3h-3zM581 220h3v36h-3zM589 216h3v1h-3zM601 239h3v4h-3zM609 241h3v3h-3zM613 217h3v26h-3zM617 193h3v26h-3zM621 186h3v8h-3zM625 116h3v70h-3zM629 90h3v28h-3zM645 192h3v6h-3zM649 179h3v14h-3zM657 194h3v4h-3zM665 190h3v12h-3zM685 234h3v4h-3zM689 193h3v42h-3zM693 167h3v27h-3zM705 177h3v11h-3zM713 174h3v11h-3zM721 167h3v13h-3zM725 140h3v27h-3zM729 137h3v4h-3zM733 104h3v26h-3zM749 170h3v7h-3zM761 161h3v24h-3zM765 136h3v26h-3zM789 197h3v25h-3zM813 271h3v5h-3zM821 299h3v12h-3zM841 320h3v8h-3zM845 301h3v19h-3zM853 306h3v3h-3zM857 299h3v7h-3zM865 317h3v6h-3zM869 294h3v24h-3zM881 284h3v31h-3zM889 266h3v20h-3zM897 268h3v8h-3zM905 267h3v7h-3zM913 212h3v65h-3z"/>
<path fill="#ff3000" d="M10 195h1v4h-1zM30 178h1v64h-1zM34 156h1v21h-1zM46 192h1v2h-1zM54 165h1v34h-1zM62 176h1v6h-1zM86 254h1v5h-1zM94 261h1v10h-1zM102 245h1v33h-1zM114 228h1v8h-1zM118 226h1v1h-1zM122 198h1v27h-1zM130 207h1v7h-1zM134 208h1v4h-1zM138 193h1v14h-1zM154 218h1v1h-1zM162 231h1v12h-1zM166 198h1v32h-1zM182 224h1v10h-1zM194 231h1v12h-1zM206 233h1v8h-1zM210 216h1v16h-1zM218 254h1v1h-1zM222 252h1v1h-1zM258 331h1v19h-1zM274 412h1v1h-1zM282 434h1v2h-1zM286 429h1v3h-1zM290 409h1v19h-1zM310 435h1v12h-1zM318 443h1v9h-1zM326 438h1v1h-1zM334 424h1v18h-1zM342 436h1v4h-1zM358 454h1v5h-1zM362 423h1v29h-1zM378 430h1v16h-1zM390 403h1v29h-1zM394 400h1v2h-1zM402 384h1v31h-1zM410 316h1v84h-1zM414 278h1v37h-1zM434 323h1v22h-1zM442 337h1v5h-1zM446 329h1v12h-1zM450 305h1v22h-1zM454 293h1v11h-1zM474 266h1v59h-1zM478 246h1v18h-1zM482 234h1v10h-1zM498 245h1v24h-1zM502 239h1v5h-1zM506 212h1v26h-1zM510 210h1v2h-1zM514 201h1v8h-1zM518 135h1v59h-1zM530 214h1v15h-1zM534 212h1v1h-1zM546 213h1v18h-1zM558 266h1v9h-1zM562 259h1v5h-1zM566 249h1v13h-1zM570 227h1v20h-1zM574 221h1v1h-1zM582 221h1v34h-1zM602 240h1v2h-1zM610 242h1v1h-1zM614 218h1v24h-1zM618 194h1v24h-1zM622 187h1v6h-1zM626 117h1v68h-1zM630 91h1v26h-1zM646 193h1v4h-1zM650 180h1v12h-1zM658 195h1v2h-1zM666 191h1v10h-1zM686 235h1v2h-1zM690 194h1v40h-1zM694 168h1v25h-1zM706 178h1v9h-1zM714 175h1v9h-1zM722 168h1v11h-1zM726 141h1v25h-1zM730 138h1v2h-1zM734 105h1v24h-1zM750 171h1v5h-1zM762 162h1v22h-1zM766 137h1v24h-1zM790 198h1v23h-1zM814 272h1v3h-1zM822 300h1v10h-1zM842 321h1v6h-1zM846 302h1v17h-1zM854 307h1v1h-1zM858 300h1v5h-1zM866 318h1v4h-1zM870 295h1v22h-1zM882 285h1v29h-1zM890 267h1v18h-1zM898 269h1v6h-1zM906 268h1v5h-1zM914 213h1v63h-1z"/>
</g>
</g>
<g shape-rendering="crispEdges" fill="#000">
<rect x="1165" y="51" width="2" height="1"/>
<rect x="1165" y="84" width="2" height="1"/>
<rect x="1165" y="117" width="2" height="1"/>
<rect x="1165" y="150" width="2" height="1"/>
<rect x="1165" y="183" width="2" height="1"/>
<rect x="1165" y="216" width="2" height="1"/>
<rect x="1165" y="249" width="2" height="1"/>
<rect x="1165" y="282" width="2" height="1"/>
<rect x="1165" y="315" width="2" height="1"/>
<rect x="1165" y="348" width="2" height="1"/>
<rect x="1165" y="381" width="2" height="1"/>
<rect x="1165" y="414" width="2" height="1"/>
<rect x="1165" y="447" width="2" height="1"/>
<rect x="1165" y="480" width="2" height="1"/>
</g>
<text x="1170.40" y="54.80" font-size="9.9" textLength="32.20" lengthAdjust="spacingAndGlyphs" fill="#000" stroke="#000" stroke-width="0.22">1.29360</text>
<text x="1170.40" y="87.80" font-size="9.9" textLength="32.20" lengthAdjust="spacingAndGlyphs" fill="#000" stroke="#000" stroke-width="0.22">1.28640</text>
<text x="1170.40" y="120.80" font-size="9.9" textLength="32.20" lengthAdjust="spacingAndGlyphs" fill="#000" stroke="#000" stroke-width="0.22">1.27900</text>
<text x="1170.40" y="153.80" font-size="9.9" textLength="32.20" lengthAdjust="spacingAndGlyphs" fill="#000" stroke="#000" stroke-width="0.22">1.27180</text>
<text x="1170.40" y="186.80" font-size="9.9" textLength="32.20" lengthAdjust="spacingAndGlyphs" fill="#000" stroke="#000" stroke-width="0.22">1.26440</text>
<text x="1170.40" y="219.80" font-size="9.9" textLength="32.20" lengthAdjust="spacingAndGlyphs" fill="#000" stroke="#000" stroke-width="0.22">1.25720</text>
<text x="1170.40" y="252.80" font-size="9.9" textLength="32.20" lengthAdjust="spacingAndGlyphs" fill="#000" stroke="#000" stroke-width="0.22">1.24980</text>
<text x="1170.40" y="285.80" font-size="9.9" textLength="32.20" lengthAdjust="spacingAndGlyphs" fill="#000" stroke="#000" stroke-width="0.22">1.24260</text>
<text x="1170.40" y="318.80" font-size="9.9" textLength="32.20" lengthAdjust="spacingAndGlyphs" fill="#000" stroke="#000" stroke-width="0.22">1.23520</text>
<text x="1170.40" y="351.80" font-size="9.9" textLength="32.20" lengthAdjust="spacingAndGlyphs" fill="#000" stroke="#000" stroke-width="0.22">1.22800</text>
<text x="1170.40" y="384.80" font-size="9.9" textLength="32.20" lengthAdjust="spacingAndGlyphs" fill="#000" stroke="#000" stroke-width="0.22">1.22060</text>
<text x="1170.40" y="417.80" font-size="9.9" textLength="32.20" lengthAdjust="spacingAndGlyphs" fill="#000" stroke="#000" stroke-width="0.22">1.21340</text>
<text x="1170.40" y="450.80" font-size="9.9" textLength="32.20" lengthAdjust="spacingAndGlyphs" fill="#000" stroke="#000" stroke-width="0.22">1.20600</text>
<text x="1170.40" y="483.80" font-size="9.9" textLength="32.20" lengthAdjust="spacingAndGlyphs" fill="#000" stroke="#000" stroke-width="0.22">1.19880</text>
<rect x="1166" y="75" width="39" height="11" fill="#ff0000" shape-rendering="crispEdges"/><text x="1170.40" y="84.00" font-size="9.9" textLength="32.20" lengthAdjust="spacingAndGlyphs" fill="#fff" stroke="#fff" stroke-width="0.22">1.28700</text>
<rect x="1166" y="165" width="39" height="11" fill="#00ff00" shape-rendering="crispEdges"/><text x="1170.40" y="174.00" font-size="9.9" textLength="32.20" lengthAdjust="spacingAndGlyphs" fill="#fff" stroke="#fff" stroke-width="0.22">1.26700</text>
<rect x="1166" y="242" width="39" height="11" fill="#0000ff" shape-rendering="crispEdges"/><text x="1170.40" y="251.00" font-size="9.9" textLength="32.20" lengthAdjust="spacingAndGlyphs" fill="#fff" stroke="#fff" stroke-width="0.22">1.25003</text>
<rect x="1166" y="333" width="39" height="11" fill="#0000ff" shape-rendering="crispEdges"/><text x="1170.40" y="342.00" font-size="9.9" textLength="32.20" lengthAdjust="spacingAndGlyphs" fill="#fff" stroke="#fff" stroke-width="0.22">1.23003</text>
<rect x="1166" y="441" width="39" height="11" fill="#0000ff" shape-rendering="crispEdges"/><text x="1170.40" y="450.00" font-size="9.9" textLength="32.20" lengthAdjust="spacingAndGlyphs" fill="#fff" stroke="#fff" stroke-width="0.22">1.20609</text>
<rect x="1166" y="219" width="39" height="11" fill="#000000" shape-rendering="crispEdges"/><text x="1170.40" y="228.00" font-size="9.9" textLength="32.20" lengthAdjust="spacingAndGlyphs" fill="#fff" stroke="#fff" stroke-width="0.22">1.25533</text>
<path d="M4.8 34.4 L12.3 34.4 L8.55 29.8 Z" fill="#000"/>
<text x="17.50" y="35.00" font-size="9.9" textLength="65.00" lengthAdjust="spacingAndGlyphs" fill="#000" stroke="#000" stroke-width="0.22">USDCAD,Daily</text>
<text x="89.80" y="35.00" font-size="9.9" textLength="140.20" lengthAdjust="spacingAndGlyphs" fill="#000" stroke="#000" stroke-width="0.22">1.25712 1.25760 1.25451 1.25533</text>
<g shape-rendering="crispEdges">
<rect x="4" y="43" width="1" height="57" fill="#fff"/>
<rect x="5" y="43" width="219" height="57" fill="url(#gb)"/>
<rect x="57" y="43" width="115" height="24" fill="#fff"/>
<rect x="114" y="67" width="2" height="33" fill="#fff"/>
<rect x="59" y="43" width="111" height="23" fill="#fff" stroke="none"/>
<rect x="59" y="43" width="111" height="1" fill="#b0b0b0"/><rect x="59" y="65" width="111" height="1" fill="#b0b0b0"/><rect x="59" y="43" width="1" height="23" fill="#b0b0b0"/><rect x="169" y="43" width="1" height="23" fill="#b0b0b0"/>
<rect x="61" y="45" width="19" height="19" fill="url(#gbtn)"/><rect x="80" y="44" width="1" height="21" fill="#b0b0b0"/>
<rect x="149" y="45" width="19" height="19" fill="url(#gbtn)"/><rect x="148" y="44" width="1" height="21" fill="#b0b0b0"/>
<rect x="9" y="66" width="44" height="1" fill="#1a1aa8"/><rect x="9" y="67" width="44" height="1" fill="#8c8cf0"/>
<rect x="176" y="66" width="44" height="1" fill="#1a1aa8"/><rect x="176" y="67" width="44" height="1" fill="#8c8cf0"/>
</g>
<path d="M67.5 52.5 L72.5 52.5 L70 55.5 Z" fill="#4a5cc0"/>
<path d="M155.5 55.5 L160.5 55.5 L158 52.5 Z" fill="#4a5cc0"/>
<text x="17.50" y="59.00" font-size="12.4" textLength="25.50" lengthAdjust="spacingAndGlyphs" fill="#fff">SELL</text>
<text x="185.70" y="59.00" font-size="12.4" textLength="22.90" lengthAdjust="spacingAndGlyphs" fill="#fff">BUY</text>
<text x="121.50" y="58.10" font-size="11.2" textLength="23.20" lengthAdjust="spacingAndGlyphs" fill="#000">3.00</text>
<text x="26.00" y="94.80" font-size="12.8" textLength="23.00" lengthAdjust="spacingAndGlyphs" fill="#fff" font-weight="bold">1.25</text>
<text x="54.30" y="94.80" font-size="32.8" textLength="31.91" lengthAdjust="spacingAndGlyphs" fill="#fff" stroke="url(#gb)" stroke-width="0.55">53</text>
<text x="92.80" y="78.80" font-size="12.6" textLength="6.70" lengthAdjust="spacingAndGlyphs" fill="#fff" font-weight="bold">6</text>
<text x="135.70" y="94.80" font-size="12.8" textLength="23.10" lengthAdjust="spacingAndGlyphs" fill="#fff" font-weight="bold">1.25</text>
<text x="165.10" y="94.80" font-size="32.8" textLength="32.71" lengthAdjust="spacingAndGlyphs" fill="#fff" stroke="url(#gb)" stroke-width="0.55">55</text>
<text x="203.80" y="78.80" font-size="12.6" textLength="5.80" lengthAdjust="spacingAndGlyphs" fill="#fff" font-weight="bold">1</text>
<clipPath id="c2"><rect x="2" y="486" width="1162" height="83"/></clipPath>
<g clip-path="url(#c2)">
<path fill="#c0c0c0" shape-rendering="crispEdges" d="M1 527h3v7h-3zM5 527h3v9h-3zM9 527h3v11h-3zM13 527h3v12h-3zM17 527h3v13h-3zM21 527h3v15h-3zM25 527h3v18h-3zM29 527h3v16h-3zM33 527h3v12h-3zM37 527h3v11h-3zM41 527h3v11h-3zM45 527h3v11h-3zM49 527h3v11h-3zM53 527h3v9h-3zM57 527h3v7h-3zM61 527h3v6h-3zM65 527h3v6h-3zM69 527h3v6h-3zM73 527h3v8h-3zM77 527h3v11h-3zM81 527h3v14h-3zM85 527h3v16h-3zM89 527h3v19h-3zM93 527h3v19h-3zM97 527h3v21h-3zM101 527h3v20h-3zM105 527h3v19h-3zM109 527h3v18h-3zM113 527h3v16h-3zM117 527h3v14h-3zM121 527h3v10h-3zM125 527h3v9h-3zM129 527h3v7h-3zM133 527h3v5h-3zM137 527h3v3h-3zM141 527h3v3h-3zM145 527h3v3h-3zM149 527h3v3h-3zM153 527h3v3h-3zM157 527h3v4h-3zM161 527h3v5h-3zM165 527h3v3h-3zM169 527h3v2h-3zM173 527h3v3h-3zM177 527h3v4h-3zM181 527h3v3h-3zM185 527h3v4h-3zM189 527h3v5h-3zM193 527h3v4h-3zM197 527h3v6h-3zM201 527h3v6h-3zM205 527h3v6h-3zM209 527h3v4h-3zM213 527h3v6h-3zM217 527h3v6h-3zM221 527h3v7h-3zM225 527h3v8h-3zM229 527h3v10h-3zM233 527h3v12h-3zM237 527h3v15h-3zM241 527h3v19h-3zM245 527h3v21h-3zM249 527h3v23h-3zM253 527h3v25h-3zM257 527h3v25h-3zM261 527h3v26h-3zM265 527h3v28h-3zM269 527h3v32h-3zM273 527h3v34h-3zM277 527h3v36h-3zM281 527h3v38h-3zM285 527h3v39h-3zM289 527h3v37h-3zM293 527h3v37h-3zM297 527h3v36h-3zM301 527h3v36h-3zM305 527h3v36h-3zM309 527h3v35h-3zM313 527h3v35h-3zM317 527h3v34h-3zM321 527h3v33h-3zM325 527h3v31h-3zM329 527h3v29h-3zM333 527h3v27h-3zM337 527h3v26h-3zM341 527h3v24h-3zM345 527h3v23h-3zM349 527h3v22h-3zM353 527h3v22h-3zM357 527h3v21h-3zM361 527h3v18h-3zM365 527h3v17h-3zM369 527h3v16h-3zM373 527h3v15h-3zM377 527h3v14h-3zM381 527h3v12h-3zM385 527h3v11h-3zM389 527h3v8h-3zM393 527h3v5h-3zM397 527h3v4h-3zM401 527h3v2h-3zM405 526h3v1h-3zM409 520h3v7h-3zM413 513h3v14h-3zM417 508h3v19h-3zM421 506h3v21h-3zM425 504h3v23h-3zM429 506h3v21h-3zM433 506h3v21h-3zM437 507h3v20h-3zM441 508h3v19h-3zM445 508h3v19h-3zM449 507h3v20h-3zM453 506h3v21h-3zM457 505h3v22h-3zM461 507h3v20h-3zM465 509h3v18h-3zM469 510h3v17h-3zM473 508h3v19h-3zM477 505h3v22h-3zM481 502h3v25h-3zM485 502h3v25h-3zM489 502h3v25h-3zM493 503h3v24h-3zM497 503h3v24h-3zM501 502h3v25h-3zM505 500h3v27h-3zM509 499h3v28h-3zM513 498h3v29h-3zM517 493h3v34h-3zM521 490h3v37h-3zM525 494h3v33h-3zM529 496h3v31h-3zM533 498h3v29h-3zM537 500h3v27h-3zM541 503h3v24h-3zM545 504h3v23h-3zM549 506h3v21h-3zM553 511h3v16h-3zM557 515h3v12h-3zM561 517h3v10h-3zM565 518h3v9h-3zM569 518h3v9h-3zM573 518h3v9h-3zM577 520h3v7h-3zM581 519h3v8h-3zM585 519h3v8h-3zM589 519h3v8h-3zM593 519h3v8h-3zM597 521h3v6h-3zM601 522h3v5h-3zM605 523h3v4h-3zM609 523h3v4h-3zM613 522h3v5h-3zM617 520h3v7h-3zM621 518h3v9h-3zM625 512h3v15h-3zM629 506h3v21h-3zM633 502h3v25h-3zM637 504h3v23h-3zM641 507h3v20h-3zM645 509h3v18h-3zM649 511h3v16h-3zM653 513h3v14h-3zM657 515h3v12h-3zM661 517h3v10h-3zM665 518h3v9h-3zM669 519h3v8h-3zM673 522h3v5h-3zM677 525h3v2h-3zM681 527h3v1h-3zM685 527h3v3h-3zM689 527h3v2h-3zM693 525h3v2h-3zM697 524h3v3h-3zM701 523h3v4h-3zM705 522h3v5h-3zM709 522h3v5h-3zM713 521h3v6h-3zM717 521h3v6h-3zM721 520h3v7h-3zM725 518h3v9h-3zM729 516h3v11h-3zM733 512h3v15h-3zM737 511h3v16h-3zM741 511h3v16h-3zM745 514h3v13h-3zM749 516h3v11h-3zM753 518h3v9h-3zM757 520h3v7h-3zM761 520h3v7h-3zM765 519h3v8h-3zM769 520h3v7h-3zM773 521h3v6h-3zM777 523h3v4h-3zM781 526h3v1h-3zM785 527h3v3h-3zM789 527h3v4h-3zM793 527h3v7h-3zM797 527h3v10h-3zM801 527h3v14h-3zM805 527h3v16h-3zM809 527h3v18h-3zM813 527h3v20h-3zM817 527h3v23h-3zM821 527h3v25h-3zM825 527h3v26h-3zM829 527h3v27h-3zM833 527h3v28h-3zM837 527h3v29h-3zM841 527h3v29h-3zM845 527h3v27h-3zM849 527h3v27h-3zM853 527h3v25h-3zM857 527h3v24h-3zM861 527h3v24h-3zM865 527h3v23h-3zM869 527h3v21h-3zM873 527h3v19h-3zM877 527h3v19h-3zM881 527h3v16h-3zM885 527h3v14h-3zM889 527h3v11h-3zM893 527h3v9h-3zM897 527h3v7h-3zM901 527h3v6h-3zM905 527h3v4h-3zM909 527h3v3h-3zM913 525h3v2h-3zM917 522h3v5h-3zM921 520h3v7h-3z"/>
<g shape-rendering="crispEdges"><path fill="#ff0000" d="M2 531v1h1v-1zM3 531v1h1v-1zM4 531v1h1v-1zM5 532v1h1v-1zM6 532v1h1v-1zM7 532v1h1v-1zM8 532v1h1v-1zM9 532v1h1v-1zM10 532v1h1v-1zM11 532v1h1v-1zM12 532v1h1v-1zM13 533v1h1v-1zM14 533v1h1v-1zM15 533v1h1v-1zM16 533v1h1v-1zM17 534v1h1v-1zM18 534v1h1v-1zM19 534v1h1v-1zM20 534v1h1v-1zM21 535v1h1v-1zM22 535v1h1v-1zM23 535v1h1v-1zM24 536v1h1v-1zM25 536v1h1v-1zM26 537v1h1v-1zM27 537v1h1v-1zM28 537v1h1v-1zM29 538v1h1v-1zM30 538v1h1v-1zM31 538v1h1v-1zM32 538v1h1v-1zM33 539v1h1v-1zM34 539v1h1v-1zM35 539v1h1v-1zM36 539v1h1v-1zM37 539v1h1v-1zM38 539v1h1v-1zM39 539v1h1v-1zM40 539v1h1v-1zM41 539v1h1v-1zM42 539v1h1v-1zM43 539v1h1v-1zM44 539v1h1v-1zM45 539v1h1v-1zM46 539v1h1v-1zM47 539v1h1v-1zM48 539v1h1v-1zM49 539v1h1v-1zM50 539v1h1v-1zM51 539v1h1v-1zM52 539v1h1v-1zM53 539v1h1v-1zM54 539v1h1v-1zM55 539v1h1v-1zM56 539v1h1v-1zM57 538v1h1v-1zM58 538v1h1v-1zM59 538v1h1v-1zM60 538v1h1v-1zM61 537v1h1v-1zM62 537v1h1v-1zM63 537v1h1v-1zM64 536v1h1v-1zM65 536v1h1v-1zM66 535v1h1v-1zM67 535v1h1v-1zM68 535v1h1v-1zM69 535v1h1v-1zM70 535v1h1v-1zM71 535v1h1v-1zM72 535v1h1v-1zM73 534v1h1v-1zM74 534v1h1v-1zM75 534v1h1v-1zM76 534v1h1v-1zM77 534v1h1v-1zM78 534v1h1v-1zM79 534v1h1v-1zM80 534v1h1v-1zM81 535v1h1v-1zM82 535v1h1v-1zM83 535v1h1v-1zM84 535v1h1v-1zM85 535v1h1v-1zM86 535v1h1v-1zM87 535v1h1v-1zM88 535v1h1v-1zM89 536v1h1v-1zM90 536v1h1v-1zM91 536v1h1v-1zM92 537v1h1v-1zM93 537v1h1v-1zM94 538v1h1v-1zM95 538v1h1v-1zM96 538v1h1v-1zM97 539v1h1v-1zM98 539v1h1v-1zM99 539v1h1v-1zM100 540v1h1v-1zM101 540v1h1v-1zM102 541v1h1v-1zM103 541v1h1v-1zM104 541v1h1v-1zM105 542v1h1v-1zM106 542v1h1v-1zM107 542v1h1v-1zM108 543v1h1v-1zM109 543v1h1v-1zM110 544v1h1v-1zM111 544v1h1v-1zM112 544v1h1v-1zM113 544v1h1v-1zM114 544v1h1v-1zM115 544v1h1v-1zM116 544v1h1v-1zM117 544v1h1v-1zM118 544v1h1v-1zM119 544v1h1v-1zM120 544v1h1v-1zM121 543v1h1v-1zM122 543v1h1v-1zM123 543v1h1v-1zM124 543v1h1v-1zM125 542v1h1v-1zM126 542v1h1v-1zM127 542v1h1v-1zM128 542v1h1v-1zM129 541v1h1v-1zM130 541v1h1v-1zM131 541v1h1v-1zM132 540v1h1v-1zM133 540v1h1v-1zM134 539v1h1v-1zM135 539v1h1v-1zM136 538v1h1v-1zM137 538v1h1v-1zM138 537v1h1v-1zM139 537v1h1v-1zM140 536v1h1v-1zM141 536v1h1v-1zM142 535v1h1v-1zM143 535v1h1v-1zM144 535v1h1v-1zM145 534v1h1v-1zM146 534v1h1v-1zM147 534v1h1v-1zM148 533v1h1v-1zM149 533v1h1v-1zM150 532v1h1v-1zM151 532v1h1v-1zM152 532v1h1v-1zM153 531v1h1v-1zM154 531v1h1v-1zM155 531v1h1v-1zM156 531v1h1v-1zM157 531v1h1v-1zM158 531v1h1v-1zM159 531v1h1v-1zM160 531v1h1v-1zM161 530v1h1v-1zM162 530v1h1v-1zM163 530v1h1v-1zM164 530v1h1v-1zM165 530v1h1v-1zM166 530v1h1v-1zM167 530v1h1v-1zM168 530v1h1v-1zM169 529v1h1v-1zM170 529v1h1v-1zM171 529v1h1v-1zM172 529v1h1v-1zM173 529v1h1v-1zM174 529v1h1v-1zM175 529v1h1v-1zM176 529v1h1v-1zM177 529v1h1v-1zM178 529v1h1v-1zM179 529v1h1v-1zM180 529v1h1v-1zM181 529v1h1v-1zM182 529v1h1v-1zM183 529v1h1v-1zM184 529v1h1v-1zM185 529v1h1v-1zM186 529v1h1v-1zM187 529v1h1v-1zM188 529v1h1v-1zM189 530v1h1v-1zM190 530v1h1v-1zM191 530v1h1v-1zM192 530v1h1v-1zM193 530v1h1v-1zM194 530v1h1v-1zM195 530v1h1v-1zM196 530v1h1v-1zM197 530v1h1v-1zM198 530v1h1v-1zM199 530v1h1v-1zM200 530v1h1v-1zM201 530v1h1v-1zM202 530v1h1v-1zM203 530v1h1v-1zM204 530v1h1v-1zM205 530v1h1v-1zM206 530v1h1v-1zM207 530v1h1v-1zM208 530v1h1v-1zM209 531v1h1v-1zM210 531v1h1v-1zM211 531v1h1v-1zM212 531v1h1v-1zM213 531v1h1v-1zM214 531v1h1v-1zM215 531v1h1v-1zM216 531v1h1v-1zM217 531v1h1v-1zM218 531v1h1v-1zM219 531v1h1v-1zM220 531v1h1v-1zM221 531v1h1v-1zM222 531v1h1v-1zM223 531v1h1v-1zM224 531v1h1v-1zM225 532v1h1v-1zM226 532v1h1v-1zM227 532v1h1v-1zM228 532v1h1v-1zM229 532v1h1v-1zM230 532v1h1v-1zM231 532v1h1v-1zM232 532v1h1v-1zM233 533v1h1v-1zM234 533v1h1v-1zM235 533v1h1v-1zM236 533v1h1v-1zM237 534v1h1v-1zM238 534v1h1v-1zM239 534v1h1v-1zM240 535v1h1v-1zM241 535v1h1v-1zM242 536v1h1v-1zM243 536v1h1v-1zM244 537v1h1v-1zM245 537v1h1v-1zM246 538v1h1v-1zM247 538v1h1v-1zM248 539v1h1v-1zM249 539v1h1v-1zM250 540v1h1v-1zM251 540v1h1v-1zM252 541v1h1v-1zM253 541v1h1v-1zM254 542v1h1v-1zM255 542v1h1v-1zM256 543v1h1v-1zM257 543v1h1v-1zM258 544v1h1v-1zM259 544v1h1v-1zM260 545v1h1v-1zM261 545v1h1v-1zM262 546v1h1v-1zM263 546v1h1v-1zM264 547v1h1v-1zM265 547v1h1v-1zM266 548v1h1v-1zM267 548v1h1v-1zM268 549v1h1v-1zM269 549v1h1v-1zM270 550v1h1v-1zM271 550v1h1v-1zM272 551v1h1v-1zM273 551v1h1v-1zM274 552v1h1v-1zM275 552v1h1v-1zM276 553v1h1v-1zM277 553v1h1v-1zM278 554v1h1v-1zM279 554v1h1v-1zM280 555v1h1v-1zM281 555v1h1v-1zM282 556v1h1v-1zM283 556v1h1v-1zM284 556v1h1v-1zM285 557v1h1v-1zM286 557v1h1v-1zM287 557v1h1v-1zM288 558v1h1v-1zM289 558v1h1v-1zM290 559v1h1v-1zM291 559v1h1v-1zM292 559v1h1v-1zM293 560v1h1v-1zM294 560v1h1v-1zM295 560v1h1v-1zM296 560v1h1v-1zM297 561v1h1v-1zM298 561v1h1v-1zM299 561v1h1v-1zM300 561v1h1v-1zM301 562v1h1v-1zM302 562v1h1v-1zM303 562v1h1v-1zM304 562v1h1v-1zM305 563v1h1v-1zM306 563v1h1v-1zM307 563v1h1v-1zM308 563v1h1v-1zM309 563v1h1v-1zM310 563v1h1v-1zM311 563v1h1v-1zM312 563v1h1v-1zM313 563v1h1v-1zM314 563v1h1v-1zM315 563v1h1v-1zM316 563v1h1v-1zM317 562v1h1v-1zM318 562v1h1v-1zM319 562v1h1v-1zM320 562v1h1v-1zM321 561v1h1v-1zM322 561v1h1v-1zM323 561v1h1v-1zM324 561v1h1v-1zM325 561v1h1v-1zM326 561v1h1v-1zM327 561v1h1v-1zM328 561v1h1v-1zM329 560v1h1v-1zM330 560v1h1v-1zM331 560v1h1v-1zM332 560v1h1v-1zM333 559v1h1v-1zM334 559v1h1v-1zM335 559v1h1v-1zM336 559v1h1v-1zM337 558v1h1v-1zM338 558v1h1v-1zM339 558v1h1v-1zM340 557v1h1v-1zM341 557v1h1v-1zM342 556v1h1v-1zM343 556v1h1v-1zM344 556v1h1v-1zM345 555v1h1v-1zM346 555v1h1v-1zM347 555v1h1v-1zM348 554v1h1v-1zM349 554v1h1v-1zM350 553v1h1v-1zM351 553v1h1v-1zM352 553v1h1v-1zM353 552v1h1v-1zM354 552v1h1v-1zM355 552v1h1v-1zM356 552v1h1v-1zM357 551v1h1v-1zM358 551v1h1v-1zM359 551v1h1v-1zM360 550v1h1v-1zM361 550v1h1v-1zM362 549v1h1v-1zM363 549v1h1v-1zM364 549v1h1v-1zM365 548v1h1v-1zM366 548v1h1v-1zM367 548v1h1v-1zM368 548v1h1v-1zM369 547v1h1v-1zM370 547v1h1v-1zM371 547v1h1v-1zM372 547v1h1v-1zM373 546v1h1v-1zM374 546v1h1v-1zM375 546v1h1v-1zM376 546v1h1v-1zM377 545v1h1v-1zM378 545v1h1v-1zM379 545v1h1v-1zM380 544v1h1v-1zM381 544v1h1v-1zM382 543v1h1v-1zM383 543v1h1v-1zM384 543v1h1v-1zM385 542v1h1v-1zM386 542v1h1v-1zM387 542v1h1v-1zM388 542v1h1v-1zM389 541v1h1v-1zM390 541v1h1v-1zM391 541v1h1v-1zM392 540v1h1v-1zM393 540v1h1v-1zM394 539v1h1v-1zM395 539v1h1v-1zM396 538v1h1v-1zM397 538v1h1v-1zM398 537v1h1v-1zM399 537v1h1v-1zM400 537v1h1v-1zM401 536v1h1v-1zM402 536v1h1v-1zM403 536v1h1v-1zM404 535v1h1v-1zM405 535v1h1v-1zM406 534v1h1v-1zM407 534v1h1v-1zM408 533v1h1v-1zM409 533v1h1v-1zM410 532v1h1v-1zM411 531v1h1v-1zM412 531v1h1v-1zM413 530v1h1v-1zM414 529v1h1v-1zM415 528v1h1v-1zM416 527v1h1v-1zM417 526v1h1v-1zM418 525v1h1v-1zM419 524v1h1v-1zM420 524v1h1v-1zM421 523v1h1v-1zM422 522v1h1v-1zM423 521v1h1v-1zM424 521v1h1v-1zM425 520v1h1v-1zM426 519v1h1v-1zM427 518v1h1v-1zM428 518v1h1v-1zM429 517v1h1v-1zM430 516v1h1v-1zM431 515v1h1v-1zM432 515v1h1v-1zM433 514v1h1v-1zM434 513v1h1v-1zM435 513v1h1v-1zM436 512v1h1v-1zM437 512v1h1v-1zM438 511v1h1v-1zM439 511v1h1v-1zM440 510v1h1v-1zM441 510v1h1v-1zM442 509v1h1v-1zM443 509v1h1v-1zM444 508v1h1v-1zM445 508v1h1v-1zM446 507v1h1v-1zM447 507v1h1v-1zM448 507v1h1v-1zM449 507v1h1v-1zM450 507v1h1v-1zM451 507v1h1v-1zM452 507v1h1v-1zM453 507v1h1v-1zM454 507v1h1v-1zM455 507v1h1v-1zM456 507v1h1v-1zM457 506v1h1v-1zM458 506v1h1v-1zM459 506v1h1v-1zM460 506v1h1v-1zM461 507v1h1v-1zM462 507v1h1v-1zM463 507v1h1v-1zM464 507v1h1v-1zM465 507v1h1v-1zM466 507v1h1v-1zM467 507v1h1v-1zM468 507v1h1v-1zM469 508v1h1v-1zM470 508v1h1v-1zM471 508v1h1v-1zM472 508v1h1v-1zM473 508v1h1v-1zM474 508v1h1v-1zM475 508v1h1v-1zM476 508v1h1v-1zM477 507v1h1v-1zM478 507v1h1v-1zM479 507v1h1v-1zM480 507v1h1v-1zM481 507v1h1v-1zM482 507v1h1v-1zM483 507v1h1v-1zM484 507v1h1v-1zM485 506v1h1v-1zM486 506v1h1v-1zM487 506v1h1v-1zM488 506v1h1v-1zM489 506v1h1v-1zM490 506v1h1v-1zM491 506v1h1v-1zM492 506v1h1v-1zM493 505v1h1v-1zM494 505v1h1v-1zM495 505v1h1v-1zM496 505v1h1v-1zM497 505v1h1v-1zM498 505v1h1v-1zM499 505v1h1v-1zM500 505v1h1v-1zM501 504v1h1v-1zM502 504v1h1v-1zM503 504v1h1v-1zM504 504v1h1v-1zM505 503v1h1v-1zM506 503v1h1v-1zM507 503v1h1v-1zM508 503v1h1v-1zM509 502v1h1v-1zM510 502v1h1v-1zM511 502v1h1v-1zM512 502v1h1v-1zM513 501v1h1v-1zM514 501v1h1v-1zM515 501v1h1v-1zM516 501v1h1v-1zM517 500v1h1v-1zM518 500v1h1v-1zM519 500v1h1v-1zM520 500v1h1v-1zM521 499v1h1v-1zM522 499v1h1v-1zM523 499v1h1v-1zM524 499v1h1v-1zM525 498v1h1v-1zM526 498v1h1v-1zM527 498v1h1v-1zM528 498v1h1v-1zM529 497v1h1v-1zM530 497v1h1v-1zM531 497v1h1v-1zM532 497v1h1v-1zM533 497v1h1v-1zM534 497v1h1v-1zM535 497v1h1v-1zM536 497v1h1v-1zM537 496v1h1v-1zM538 496v1h1v-1zM539 496v1h1v-1zM540 496v1h1v-1zM541 497v1h1v-1zM542 497v1h1v-1zM543 497v1h1v-1zM544 497v1h1v-1zM545 497v1h1v-1zM546 497v1h1v-1zM547 497v1h1v-1zM548 497v1h1v-1zM549 498v1h1v-1zM550 498v1h1v-1zM551 498v1h1v-1zM552 499v1h1v-1zM553 499v1h1v-1zM554 500v1h1v-1zM555 501v1h1v-1zM556 501v1h1v-1zM557 502v1h1v-1zM558 503v1h1v-1zM559 504v1h1v-1zM560 504v1h1v-1zM561 505v1h1v-1zM562 506v1h1v-1zM563 506v1h1v-1zM564 507v1h1v-1zM565 507v1h1v-1zM566 508v1h1v-1zM567 508v1h1v-1zM568 509v1h1v-1zM569 509v1h1v-1zM570 510v1h1v-1zM571 510v1h1v-1zM572 511v1h1v-1zM573 511v1h1v-1zM574 512v1h1v-1zM575 512v1h1v-1zM576 513v1h1v-1zM577 513v1h1v-1zM578 514v1h1v-1zM579 514v1h1v-1zM580 515v1h1v-1zM581 515v1h1v-1zM582 516v1h1v-1zM583 516v1h1v-1zM584 516v1h1v-1zM585 517v1h1v-1zM586 517v1h1v-1zM587 517v1h1v-1zM588 517v1h1v-1zM589 518v1h1v-1zM590 518v1h1v-1zM591 518v1h1v-1zM592 518v1h1v-1zM593 519v1h1v-1zM594 519v1h1v-1zM595 519v1h1v-1zM596 519v1h1v-1zM597 519v1h1v-1zM598 519v1h1v-1zM599 519v1h1v-1zM600 519v1h1v-1zM601 519v1h1v-1zM602 519v1h1v-1zM603 519v1h1v-1zM604 519v1h1v-1zM605 520v1h1v-1zM606 520v1h1v-1zM607 520v1h1v-1zM608 520v1h1v-1zM609 520v1h1v-1zM610 520v1h1v-1zM611 520v1h1v-1zM612 520v1h1v-1zM613 521v1h1v-1zM614 521v1h1v-1zM615 521v1h1v-1zM616 521v1h1v-1zM617 521v1h1v-1zM618 521v1h1v-1zM619 521v1h1v-1zM620 521v1h1v-1zM621 521v1h1v-1zM622 521v1h1v-1zM623 521v1h1v-1zM624 521v1h1v-1zM625 520v1h1v-1zM626 520v1h1v-1zM627 520v1h1v-1zM628 519v1h1v-1zM629 519v1h1v-1zM630 518v1h1v-1zM631 518v1h1v-1zM632 517v1h1v-1zM633 517v1h1v-1zM634 516v1h1v-1zM635 516v1h1v-1zM636 515v1h1v-1zM637 515v1h1v-1zM638 514v1h1v-1zM639 514v1h1v-1zM640 514v1h1v-1zM641 513v1h1v-1zM642 513v1h1v-1zM643 513v1h1v-1zM644 512v1h1v-1zM645 512v1h1v-1zM646 511v1h1v-1zM647 511v1h1v-1zM648 511v1h1v-1zM649 510v1h1v-1zM650 510v1h1v-1zM651 510v1h1v-1zM652 510v1h1v-1zM653 509v1h1v-1zM654 509v1h1v-1zM655 509v1h1v-1zM656 509v1h1v-1zM657 509v1h1v-1zM658 509v1h1v-1zM659 509v1h1v-1zM660 509v1h1v-1zM661 509v1h1v-1zM662 509v1h1v-1zM663 509v1h1v-1zM664 509v1h1v-1zM665 510v1h1v-1zM666 510v1h1v-1zM667 510v1h1v-1zM668 511v1h1v-1zM669 511v1h1v-1zM670 512v1h1v-1zM671 512v1h1v-1zM672 513v1h1v-1zM673 513v1h1v-1zM674 514v1h1v-1zM675 514v1h1v-1zM676 515v1h1v-1zM677 515v1h1v-1zM678 516v1h1v-1zM679 516v1h1v-1zM680 517v1h1v-1zM681 517v1h1v-1zM682 518v1h1v-1zM683 518v1h1v-1zM684 519v1h1v-1zM685 519v1h1v-1zM686 520v1h1v-1zM687 520v1h1v-1zM688 521v1h1v-1zM689 521v1h1v-1zM690 522v1h1v-1zM691 522v1h1v-1zM692 522v1h1v-1zM693 523v1h1v-1zM694 523v1h1v-1zM695 523v1h1v-1zM696 523v1h1v-1zM697 524v1h1v-1zM698 524v1h1v-1zM699 524v1h1v-1zM700 524v1h1v-1zM701 525v1h1v-1zM702 525v1h1v-1zM703 525v1h1v-1zM704 525v1h1v-1zM705 525v1h1v-1zM706 525v1h1v-1zM707 525v1h1v-1zM708 525v1h1v-1zM709 525v1h1v-1zM710 525v1h1v-1zM711 525v1h1v-1zM712 525v1h1v-1zM713 525v1h1v-1zM714 525v1h1v-1zM715 525v1h1v-1zM716 525v1h1v-1zM717 524v1h1v-1zM718 524v1h1v-1zM719 524v1h1v-1zM720 524v1h1v-1zM721 523v1h1v-1zM722 523v1h1v-1zM723 523v1h1v-1zM724 523v1h1v-1zM725 522v1h1v-1zM726 522v1h1v-1zM727 522v1h1v-1zM728 522v1h1v-1zM729 521v1h1v-1zM730 521v1h1v-1zM731 521v1h1v-1zM732 521v1h1v-1zM733 520v1h1v-1zM734 520v1h1v-1zM735 520v1h1v-1zM736 519v1h1v-1zM737 519v1h1v-1zM738 518v1h1v-1zM739 518v1h1v-1zM740 518v1h1v-1zM741 517v1h1v-1zM742 517v1h1v-1zM743 517v1h1v-1zM744 517v1h1v-1zM745 516v1h1v-1zM746 516v1h1v-1zM747 516v1h1v-1zM748 516v1h1v-1zM749 515v1h1v-1zM750 515v1h1v-1zM751 515v1h1v-1zM752 515v1h1v-1zM753 515v1h1v-1zM754 515v1h1v-1zM755 515v1h1v-1zM756 515v1h1v-1zM757 515v1h1v-1zM758 515v1h1v-1zM759 515v1h1v-1zM760 515v1h1v-1zM761 515v1h1v-1zM762 515v1h1v-1zM763 515v1h1v-1zM764 515v1h1v-1zM765 516v1h1v-1zM766 516v1h1v-1zM767 516v1h1v-1zM768 516v1h1v-1zM769 516v1h1v-1zM770 516v1h1v-1zM771 516v1h1v-1zM772 517v1h1v-1zM773 517v1h1v-1zM774 518v1h1v-1zM775 518v1h1v-1zM776 518v1h1v-1zM777 519v1h1v-1zM778 519v1h1v-1zM779 519v1h1v-1zM780 519v1h1v-1zM781 520v1h1v-1zM782 520v1h1v-1zM783 520v1h1v-1zM784 521v1h1v-1zM785 521v1h1v-1zM786 522v1h1v-1zM787 522v1h1v-1zM788 522v1h1v-1zM789 523v1h1v-1zM790 523v1h1v-1zM791 523v1h1v-1zM792 524v1h1v-1zM793 524v1h1v-1zM794 525v1h1v-1zM795 525v1h1v-1zM796 525v1h1v-1zM797 526v1h1v-1zM798 526v1h1v-1zM799 527v1h1v-1zM800 527v1h1v-1zM801 528v1h1v-1zM802 529v1h1v-1zM803 529v1h1v-1zM804 530v1h1v-1zM805 530v1h1v-1zM806 531v1h1v-1zM807 532v1h1v-1zM808 532v1h1v-1zM809 533v1h1v-1zM810 534v1h1v-1zM811 534v1h1v-1zM812 535v1h1v-1zM813 535v1h1v-1zM814 536v1h1v-1zM815 537v1h1v-1zM816 537v1h1v-1zM817 538v1h1v-1zM818 539v1h1v-1zM819 539v1h1v-1zM820 540v1h1v-1zM821 540v1h1v-1zM822 541v1h1v-1zM823 542v1h1v-1zM824 542v1h1v-1zM825 543v1h1v-1zM826 544v1h1v-1zM827 544v1h1v-1zM828 545v1h1v-1zM829 545v1h1v-1zM830 546v1h1v-1zM831 546v1h1v-1zM832 547v1h1v-1zM833 547v1h1v-1zM834 548v1h1v-1zM835 548v1h1v-1zM836 548v1h1v-1zM837 549v1h1v-1zM838 549v1h1v-1zM839 549v1h1v-1zM840 550v1h1v-1zM841 550v1h1v-1zM842 551v1h1v-1zM843 551v1h1v-1zM844 551v1h1v-1zM845 552v1h1v-1zM846 552v1h1v-1zM847 552v1h1v-1zM848 552v1h1v-1zM849 553v1h1v-1zM850 553v1h1v-1zM851 553v1h1v-1zM852 553v1h1v-1zM853 553v1h1v-1zM854 553v1h1v-1zM855 553v1h1v-1zM856 553v1h1v-1zM857 553v1h1v-1zM858 553v1h1v-1zM859 553v1h1v-1zM860 553v1h1v-1zM861 553v1h1v-1zM862 553v1h1v-1zM863 553v1h1v-1zM864 553v1h1v-1zM865 552v1h1v-1zM866 552v1h1v-1zM867 552v1h1v-1zM868 552v1h1v-1zM869 551v1h1v-1zM870 551v1h1v-1zM871 551v1h1v-1zM872 551v1h1v-1zM873 550v1h1v-1zM874 550v1h1v-1zM875 550v1h1v-1zM876 550v1h1v-1zM877 549v1h1v-1zM878 549v1h1v-1zM879 549v1h1v-1zM880 549v1h1v-1zM881 548v1h1v-1zM882 548v1h1v-1zM883 548v1h1v-1zM884 547v1h1v-1zM885 547v1h1v-1zM886 546v1h1v-1zM887 546v1h1v-1zM888 546v1h1v-1zM889 545v1h1v-1zM890 545v1h1v-1zM891 545v1h1v-1zM892 544v1h1v-1zM893 544v1h1v-1zM894 543v1h1v-1zM895 543v1h1v-1zM896 542v1h1v-1zM897 542v1h1v-1zM898 541v1h1v-1zM899 541v1h1v-1zM900 541v1h1v-1zM901 540v1h1v-1zM902 540v1h1v-1zM903 540v1h1v-1zM904 539v1h1v-1zM905 539v1h1v-1zM906 538v1h1v-1zM907 538v1h1v-1zM908 537v1h1v-1zM909 537v1h1v-1zM910 536v1h1v-1zM911 536v1h1v-1zM912 535v1h1v-1zM913 535v1h1v-1zM914 534v1h1v-1zM915 533v1h1v-1zM916 533v1h1v-1zM917 532v1h1v-1zM918 531v1h1v-1zM919 531v1h1v-1zM920 530v1h1v-1zM921 530v1h1v-1zM922 529v1h1v-1z"/></g>
</g>
<text x="6.30" y="498.00" font-size="9.9" textLength="149.20" lengthAdjust="spacingAndGlyphs" fill="#000" stroke="#000" stroke-width="0.22">MACD(12,26,9) 0.001931 -0.000781</text>
<text x="1168.30" y="495.80" font-size="9.9" textLength="32.50" lengthAdjust="spacingAndGlyphs" fill="#000" stroke="#000" stroke-width="0.22">0.01135</text>
<text x="1168.30" y="531.00" font-size="9.9" textLength="17.70" lengthAdjust="spacingAndGlyphs" fill="#000" stroke="#000" stroke-width="0.22">0.00</text>
<text x="1168.30" y="565.70" font-size="9.9" textLength="40.10" lengthAdjust="spacingAndGlyphs" fill="#000" stroke="#000" stroke-width="0.22">-0.011904</text>
<path d="M1165 487h1v1h-1zM1165 526h1v1h-1zM1165 568h1v1h-1zM1165 573h1v1h-1zM1165 658h1v1h-1z" fill="#000" shape-rendering="crispEdges"/>
<g shape-rendering="crispEdges">
<path d="M2 598.5H1164M2 633.5H1164" stroke="#c0c0c0" stroke-width="1" stroke-dasharray="3 3" fill="none"/>
<path fill="#1e90ff" d="M2 616v2h1v-2zM3 618v2h1v-2zM4 620v3h1v-3zM5 623v2h1v-2zM6 625v2h1v-2zM7 626v1h1v-1zM8 625v1h1v-1zM9 625v1h1v-1zM10 624v1h1v-1zM11 624v1h1v-1zM12 624v1h1v-1zM13 625v1h1v-1zM14 625v1h1v-1zM15 625v1h1v-1zM16 625v1h1v-1zM17 626v1h1v-1zM18 626v1h1v-1zM19 626v1h1v-1zM20 627v1h1v-1zM21 627v1h1v-1zM22 628v1h1v-1zM23 629v1h1v-1zM24 630v1h1v-1zM25 631v1h1v-1zM26 631v2h1v-2zM27 627v4h1v-4zM28 623v4h1v-4zM29 619v4h1v-4zM30 617v2h1v-2zM31 616v1h1v-1zM32 615v1h1v-1zM33 614v1h1v-1zM34 613v1h1v-1zM35 614v1h1v-1zM36 615v1h1v-1zM37 616v1h1v-1zM38 617v1h1v-1zM39 618v1h1v-1zM40 618v1h1v-1zM41 619v1h1v-1zM42 620v1h1v-1zM43 620v1h1v-1zM44 620v1h1v-1zM45 619v1h1v-1zM46 619v1h1v-1zM47 619v1h1v-1zM48 619v1h1v-1zM49 620v1h1v-1zM50 620v1h1v-1zM51 618v2h1v-2zM52 617v1h1v-1zM53 615v2h1v-2zM54 614v1h1v-1zM55 614v1h1v-1zM56 615v1h1v-1zM57 615v1h1v-1zM58 616v1h1v-1zM59 616v1h1v-1zM60 616v1h1v-1zM61 616v1h1v-1zM62 616v1h1v-1zM63 616v1h1v-1zM64 617v1h1v-1zM65 617v1h1v-1zM66 618v1h1v-1zM67 618v1h1v-1zM68 618v1h1v-1zM69 618v1h1v-1zM70 618v1h1v-1zM71 619v2h1v-2zM72 621v1h1v-1zM73 622v2h1v-2zM74 624v1h1v-1zM75 625v1h1v-1zM76 626v1h1v-1zM77 627v1h1v-1zM78 628v1h1v-1zM79 628v1h1v-1zM80 629v1h1v-1zM81 629v1h1v-1zM82 630v1h1v-1zM83 629v1h1v-1zM84 629v1h1v-1zM85 628v1h1v-1zM86 627v1h1v-1zM87 628v1h1v-1zM88 628v1h1v-1zM89 629v1h1v-1zM90 630v1h1v-1zM91 629v1h1v-1zM92 629v1h1v-1zM93 628v1h1v-1zM94 627v1h1v-1zM95 628v1h1v-1zM96 628v1h1v-1zM97 629v1h1v-1zM98 629v2h1v-2zM99 627v2h1v-2zM100 625v2h1v-2zM101 623v2h1v-2zM102 621v2h1v-2zM103 621v1h1v-1zM104 622v1h1v-1zM105 622v1h1v-1zM106 623v1h1v-1zM107 622v1h1v-1zM108 621v1h1v-1zM109 620v1h1v-1zM110 619v1h1v-1zM111 619v1h1v-1zM112 619v1h1v-1zM113 618v1h1v-1zM114 618v1h1v-1zM115 618v1h1v-1zM116 618v1h1v-1zM117 617v1h1v-1zM118 617v1h1v-1zM119 616v1h1v-1zM120 614v2h1v-2zM121 613v1h1v-1zM122 612v1h1v-1zM123 613v1h1v-1zM124 613v1h1v-1zM125 614v1h1v-1zM126 615v1h1v-1zM127 615v1h1v-1zM128 615v1h1v-1zM129 614v1h1v-1zM130 614v1h1v-1zM131 614v1h1v-1zM132 614v1h1v-1zM133 614v1h1v-1zM134 614v1h1v-1zM135 613v1h1v-1zM136 613v1h1v-1zM137 612v1h1v-1zM138 611v1h1v-1zM139 612v1h1v-1zM140 613v2h1v-2zM141 615v1h1v-1zM142 616v1h1v-1zM143 616v1h1v-1zM144 616v1h1v-1zM145 616v1h1v-1zM146 616v1h1v-1zM147 617v1h1v-1zM148 617v1h1v-1zM149 618v1h1v-1zM150 619v1h1v-1zM151 618v1h1v-1zM152 618v1h1v-1zM153 617v1h1v-1zM154 616v1h1v-1zM155 617v1h1v-1zM156 618v2h1v-2zM157 620v1h1v-1zM158 621v1h1v-1zM159 620v1h1v-1zM160 620v1h1v-1zM161 619v1h1v-1zM162 618v1h1v-1zM163 616v2h1v-2zM164 614v2h1v-2zM165 612v2h1v-2zM166 611v1h1v-1zM167 612v1h1v-1zM168 613v1h1v-1zM169 614v1h1v-1zM170 615v1h1v-1zM171 616v1h1v-1zM172 616v1h1v-1zM173 617v1h1v-1zM174 618v1h1v-1zM175 618v1h1v-1zM176 618v1h1v-1zM177 619v1h1v-1zM178 619v1h1v-1zM179 618v1h1v-1zM180 618v1h1v-1zM181 617v1h1v-1zM182 616v1h1v-1zM183 616v1h1v-1zM184 617v1h1v-1zM185 617v1h1v-1zM186 618v1h1v-1zM187 618v1h1v-1zM188 619v1h1v-1zM189 619v1h1v-1zM190 620v1h1v-1zM191 619v1h1v-1zM192 619v1h1v-1zM193 618v1h1v-1zM194 617v1h1v-1zM195 618v1h1v-1zM196 619v1h1v-1zM197 620v1h1v-1zM198 621v1h1v-1zM199 621v1h1v-1zM200 621v1h1v-1zM201 621v1h1v-1zM202 621v1h1v-1zM203 620v1h1v-1zM204 619v1h1v-1zM205 618v1h1v-1zM206 617v1h1v-1zM207 616v1h1v-1zM208 615v1h1v-1zM209 614v1h1v-1zM210 613v2h1v-2zM211 615v2h1v-2zM212 617v2h1v-2zM213 619v2h1v-2zM214 621v1h1v-1zM215 621v1h1v-1zM216 621v1h1v-1zM217 621v1h1v-1zM218 621v1h1v-1zM219 621v1h1v-1zM220 621v1h1v-1zM221 620v1h1v-1zM222 620v1h1v-1zM223 620v1h1v-1zM224 621v1h1v-1zM225 621v1h1v-1zM226 622v1h1v-1zM227 623v2h1v-2zM228 625v1h1v-1zM229 626v2h1v-2zM230 628v1h1v-1zM231 628v1h1v-1zM232 628v1h1v-1zM233 628v1h1v-1zM234 628v1h1v-1zM235 629v1h1v-1zM236 629v1h1v-1zM237 630v1h1v-1zM238 631v1h1v-1zM239 632v1h1v-1zM240 632v1h1v-1zM241 633v1h1v-1zM242 634v1h1v-1zM243 634v1h1v-1zM244 634v1h1v-1zM245 635v1h1v-1zM246 635v1h1v-1zM247 635v1h1v-1zM248 635v1h1v-1zM249 635v1h1v-1zM250 635v1h1v-1zM251 635v1h1v-1zM252 635v1h1v-1zM253 635v1h1v-1zM254 635v1h1v-1zM255 633v2h1v-2zM256 632v1h1v-1zM257 630v2h1v-2zM258 629v1h1v-1zM259 630v1h1v-1zM260 631v1h1v-1zM261 632v1h1v-1zM262 633v1h1v-1zM263 634v1h1v-1zM264 634v1h1v-1zM265 635v1h1v-1zM266 636v1h1v-1zM267 637v1h1v-1zM268 637v1h1v-1zM269 638v1h1v-1zM270 639v1h1v-1zM271 639v1h1v-1zM272 639v1h1v-1zM273 638v1h1v-1zM274 638v1h1v-1zM275 639v1h1v-1zM276 639v1h1v-1zM277 640v1h1v-1zM278 641v1h1v-1zM279 641v1h1v-1zM280 640v1h1v-1zM281 640v1h1v-1zM282 639v1h1v-1zM283 639v1h1v-1zM284 639v1h1v-1zM285 638v1h1v-1zM286 638v1h1v-1zM287 636v2h1v-2zM288 635v1h1v-1zM289 633v2h1v-2zM290 632v1h1v-1zM291 632v1h1v-1zM292 633v1h1v-1zM293 633v1h1v-1zM294 634v1h1v-1zM295 634v1h1v-1zM296 634v1h1v-1zM297 634v1h1v-1zM298 634v1h1v-1zM299 634v1h1v-1zM300 635v1h1v-1zM301 635v1h1v-1zM302 636v1h1v-1zM303 636v1h1v-1zM304 636v1h1v-1zM305 637v1h1v-1zM306 637v1h1v-1zM307 636v1h1v-1zM308 634v2h1v-2zM309 633v1h1v-1zM310 632v1h1v-1zM311 633v1h1v-1zM312 633v1h1v-1zM313 634v1h1v-1zM314 635v1h1v-1zM315 634v1h1v-1zM316 633v1h1v-1zM317 632v1h1v-1zM318 631v1h1v-1zM319 631v1h1v-1zM320 631v1h1v-1zM321 632v1h1v-1zM322 632v1h1v-1zM323 631v1h1v-1zM324 630v1h1v-1zM325 629v1h1v-1zM326 628v1h1v-1zM327 628v1h1v-1zM328 629v1h1v-1zM329 629v1h1v-1zM330 630v1h1v-1zM331 628v2h1v-2zM332 626v2h1v-2zM333 624v2h1v-2zM334 623v1h1v-1zM335 624v1h1v-1zM336 625v1h1v-1zM337 626v1h1v-1zM338 627v1h1v-1zM339 627v1h1v-1zM340 626v1h1v-1zM341 626v1h1v-1zM342 625v1h1v-1zM343 625v1h1v-1zM344 625v1h1v-1zM345 626v1h1v-1zM346 626v1h1v-1zM347 626v1h1v-1zM348 626v1h1v-1zM349 627v1h1v-1zM350 627v1h1v-1zM351 628v1h1v-1zM352 628v1h1v-1zM353 629v1h1v-1zM354 630v1h1v-1zM355 629v1h1v-1zM356 629v1h1v-1zM357 628v1h1v-1zM358 626v2h1v-2zM359 624v2h1v-2zM360 622v2h1v-2zM361 620v2h1v-2zM362 618v2h1v-2zM363 619v1h1v-1zM364 619v1h1v-1zM365 620v1h1v-1zM366 621v1h1v-1zM367 621v1h1v-1zM368 621v1h1v-1zM369 622v1h1v-1zM370 622v1h1v-1zM371 622v1h1v-1zM372 622v1h1v-1zM373 623v1h1v-1zM374 623v1h1v-1zM375 622v1h1v-1zM376 620v2h1v-2zM377 619v1h1v-1zM378 618v1h1v-1zM379 618v1h1v-1zM380 618v1h1v-1zM381 618v1h1v-1zM382 618v1h1v-1zM383 618v1h1v-1zM384 618v1h1v-1zM385 619v1h1v-1zM386 618v2h1v-2zM387 616v2h1v-2zM388 614v2h1v-2zM389 612v2h1v-2zM390 611v1h1v-1zM391 611v1h1v-1zM392 611v1h1v-1zM393 610v1h1v-1zM394 610v1h1v-1zM395 611v1h1v-1zM396 612v2h1v-2zM397 614v1h1v-1zM398 615v1h1v-1zM399 613v2h1v-2zM400 611v2h1v-2zM401 609v2h1v-2zM402 608v1h1v-1zM403 609v1h1v-1zM404 610v1h1v-1zM405 611v1h1v-1zM406 611v2h1v-2zM407 608v3h1v-3zM408 604v4h1v-4zM409 601v3h1v-3zM410 599v2h1v-2zM411 598v1h1v-1zM412 598v1h1v-1zM413 597v1h1v-1zM414 596v1h1v-1zM415 596v1h1v-1zM416 596v1h1v-1zM417 597v1h1v-1zM418 597v1h1v-1zM419 598v2h1v-2zM420 600v1h1v-1zM421 601v2h1v-2zM422 603v1h1v-1zM423 603v1h1v-1zM424 603v1h1v-1zM425 603v1h1v-1zM426 603v1h1v-1zM427 604v2h1v-2zM428 606v2h1v-2zM429 608v2h1v-2zM430 610v1h1v-1zM431 609v1h1v-1zM432 609v1h1v-1zM433 608v1h1v-1zM434 607v1h1v-1zM435 608v1h1v-1zM436 609v1h1v-1zM437 610v1h1v-1zM438 611v1h1v-1zM439 611v1h1v-1zM440 611v1h1v-1zM441 610v1h1v-1zM442 610v1h1v-1zM443 610v1h1v-1zM444 610v1h1v-1zM445 609v1h1v-1zM446 609v1h1v-1zM447 608v1h1v-1zM448 607v1h1v-1zM449 606v1h1v-1zM450 605v1h1v-1zM451 605v1h1v-1zM452 605v1h1v-1zM453 604v1h1v-1zM454 604v1h1v-1zM455 604v1h1v-1zM456 604v1h1v-1zM457 604v1h1v-1zM458 604v1h1v-1zM459 605v2h1v-2zM460 607v1h1v-1zM461 608v2h1v-2zM462 610v1h1v-1zM463 610v1h1v-1zM464 611v1h1v-1zM465 611v1h1v-1zM466 612v1h1v-1zM467 612v1h1v-1zM468 612v1h1v-1zM469 611v1h1v-1zM470 610v2h1v-2zM471 608v2h1v-2zM472 606v2h1v-2zM473 604v2h1v-2zM474 603v1h1v-1zM475 602v1h1v-1zM476 602v1h1v-1zM477 601v1h1v-1zM478 600v1h1v-1zM479 600v1h1v-1zM480 600v1h1v-1zM481 599v1h1v-1zM482 599v1h1v-1zM483 600v2h1v-2zM484 602v1h1v-1zM485 603v2h1v-2zM486 605v1h1v-1zM487 605v1h1v-1zM488 606v1h1v-1zM489 606v1h1v-1zM490 607v1h1v-1zM491 607v1h1v-1zM492 607v1h1v-1zM493 607v1h1v-1zM494 607v1h1v-1zM495 606v1h1v-1zM496 605v1h1v-1zM497 604v1h1v-1zM498 603v1h1v-1zM499 603v1h1v-1zM500 603v1h1v-1zM501 603v1h1v-1zM502 603v1h1v-1zM503 602v1h1v-1zM504 601v1h1v-1zM505 600v1h1v-1zM506 599v1h1v-1zM507 599v1h1v-1zM508 599v1h1v-1zM509 599v1h1v-1zM510 599v1h1v-1zM511 599v1h1v-1zM512 599v1h1v-1zM513 598v1h1v-1zM514 598v1h1v-1zM515 596v2h1v-2zM516 595v1h1v-1zM517 593v2h1v-2zM518 592v1h1v-1zM519 593v1h1v-1zM520 593v1h1v-1zM521 594v1h1v-1zM522 595v3h1v-3zM523 598v4h1v-4zM524 602v4h1v-4zM525 606v4h1v-4zM526 610v2h1v-2zM527 611v1h1v-1zM528 610v1h1v-1zM529 610v1h1v-1zM530 609v1h1v-1zM531 609v1h1v-1zM532 609v1h1v-1zM533 609v1h1v-1zM534 609v1h1v-1zM535 609v1h1v-1zM536 609v1h1v-1zM537 609v1h1v-1zM538 609v1h1v-1zM539 610v1h1v-1zM540 610v1h1v-1zM541 611v1h1v-1zM542 612v1h1v-1zM543 611v1h1v-1zM544 611v1h1v-1zM545 610v1h1v-1zM546 609v1h1v-1zM547 609v1h1v-1zM548 610v1h1v-1zM549 610v1h1v-1zM550 611v2h1v-2zM551 613v2h1v-2zM552 615v2h1v-2zM553 617v2h1v-2zM554 619v2h1v-2zM555 620v1h1v-1zM556 619v1h1v-1zM557 619v1h1v-1zM558 618v1h1v-1zM559 618v1h1v-1zM560 618v1h1v-1zM561 617v1h1v-1zM562 617v1h1v-1zM563 617v1h1v-1zM564 616v1h1v-1zM565 616v1h1v-1zM566 615v1h1v-1zM567 614v1h1v-1zM568 614v1h1v-1zM569 613v1h1v-1zM570 612v1h1v-1zM571 612v1h1v-1zM572 612v1h1v-1zM573 611v1h1v-1zM574 611v1h1v-1zM575 612v2h1v-2zM576 614v1h1v-1zM577 615v2h1v-2zM578 617v1h1v-1zM579 616v1h1v-1zM580 614v2h1v-2zM581 613v1h1v-1zM582 612v1h1v-1zM583 612v1h1v-1zM584 612v1h1v-1zM585 612v1h1v-1zM586 612v1h1v-1zM587 612v1h1v-1zM588 612v1h1v-1zM589 611v1h1v-1zM590 611v1h1v-1zM591 612v1h1v-1zM592 612v1h1v-1zM593 613v1h1v-1zM594 614v1h1v-1zM595 614v1h1v-1zM596 615v1h1v-1zM597 615v1h1v-1zM598 616v1h1v-1zM599 616v1h1v-1zM600 616v1h1v-1zM601 615v1h1v-1zM602 615v1h1v-1zM603 615v1h1v-1zM604 615v1h1v-1zM605 616v1h1v-1zM606 616v1h1v-1zM607 616v1h1v-1zM608 616v1h1v-1zM609 615v1h1v-1zM610 615v1h1v-1zM611 614v1h1v-1zM612 613v1h1v-1zM613 612v1h1v-1zM614 611v1h1v-1zM615 610v1h1v-1zM616 609v1h1v-1zM617 608v1h1v-1zM618 607v1h1v-1zM619 607v1h1v-1zM620 607v1h1v-1zM621 606v1h1v-1zM622 605v2h1v-2zM623 603v2h1v-2zM624 601v2h1v-2zM625 599v2h1v-2zM626 597v2h1v-2zM627 597v1h1v-1zM628 596v1h1v-1zM629 596v1h1v-1zM630 595v1h1v-1zM631 595v1h1v-1zM632 595v1h1v-1zM633 595v1h1v-1zM634 595v3h1v-3zM635 598v4h1v-4zM636 602v4h1v-4zM637 606v4h1v-4zM638 610v2h1v-2zM639 612v1h1v-1zM640 613v1h1v-1zM641 614v1h1v-1zM642 615v1h1v-1zM643 615v1h1v-1zM644 615v1h1v-1zM645 614v1h1v-1zM646 614v1h1v-1zM647 614v1h1v-1zM648 613v1h1v-1zM649 613v1h1v-1zM650 612v1h1v-1zM651 613v1h1v-1zM652 613v1h1v-1zM653 614v1h1v-1zM654 615v1h1v-1zM655 615v1h1v-1zM656 615v1h1v-1zM657 615v1h1v-1zM658 615v1h1v-1zM659 615v1h1v-1zM660 615v1h1v-1zM661 616v1h1v-1zM662 616v1h1v-1zM663 616v1h1v-1zM664 615v1h1v-1zM665 615v1h1v-1zM666 614v1h1v-1zM667 614v1h1v-1zM668 614v1h1v-1zM669 615v1h1v-1zM670 615v1h1v-1zM671 616v1h1v-1zM672 617v1h1v-1zM673 618v1h1v-1zM674 619v1h1v-1zM675 620v1h1v-1zM676 620v1h1v-1zM677 621v1h1v-1zM678 622v1h1v-1zM679 622v1h1v-1zM680 622v1h1v-1zM681 623v1h1v-1zM682 623v1h1v-1zM683 623v1h1v-1zM684 622v1h1v-1zM685 622v1h1v-1zM686 620v2h1v-2zM687 618v2h1v-2zM688 616v2h1v-2zM689 614v2h1v-2zM690 613v1h1v-1zM691 612v1h1v-1zM692 611v1h1v-1zM693 610v1h1v-1zM694 609v1h1v-1zM695 610v1h1v-1zM696 610v1h1v-1zM697 611v1h1v-1zM698 612v1h1v-1zM699 612v1h1v-1zM700 612v1h1v-1zM701 613v1h1v-1zM702 613v1h1v-1zM703 613v1h1v-1zM704 612v1h1v-1zM705 612v1h1v-1zM706 611v1h1v-1zM707 611v1h1v-1zM708 612v1h1v-1zM709 612v1h1v-1zM710 613v1h1v-1zM711 613v1h1v-1zM712 612v1h1v-1zM713 612v1h1v-1zM714 611v1h1v-1zM715 611v1h1v-1zM716 611v1h1v-1zM717 612v1h1v-1zM718 612v1h1v-1zM719 612v1h1v-1zM720 611v1h1v-1zM721 611v1h1v-1zM722 610v1h1v-1zM723 609v1h1v-1zM724 607v2h1v-2zM725 606v1h1v-1zM726 605v1h1v-1zM727 605v1h1v-1zM728 605v1h1v-1zM729 605v1h1v-1zM730 605v1h1v-1zM731 604v1h1v-1zM732 602v2h1v-2zM733 601v1h1v-1zM734 600v1h1v-1zM735 601v1h1v-1zM736 602v1h1v-1zM737 603v1h1v-1zM738 604v1h1v-1zM739 605v2h1v-2zM740 607v1h1v-1zM741 608v2h1v-2zM742 610v1h1v-1zM743 611v2h1v-2zM744 613v1h1v-1zM745 614v2h1v-2zM746 616v1h1v-1zM747 616v1h1v-1zM748 616v1h1v-1zM749 615v1h1v-1zM750 615v1h1v-1zM751 615v1h1v-1zM752 615v1h1v-1zM753 616v1h1v-1zM754 616v1h1v-1zM755 616v1h1v-1zM756 617v1h1v-1zM757 617v1h1v-1zM758 618v1h1v-1zM759 617v1h1v-1zM760 615v2h1v-2zM761 614v1h1v-1zM762 613v1h1v-1zM763 612v1h1v-1zM764 611v1h1v-1zM765 610v1h1v-1zM766 609v1h1v-1zM767 610v2h1v-2zM768 612v2h1v-2zM769 614v2h1v-2zM770 616v1h1v-1zM771 616v1h1v-1zM772 616v1h1v-1zM773 617v1h1v-1zM774 617v1h1v-1zM775 617v1h1v-1zM776 618v1h1v-1zM777 618v1h1v-1zM778 619v1h1v-1zM779 620v1h1v-1zM780 621v1h1v-1zM781 622v1h1v-1zM782 623v1h1v-1zM783 623v1h1v-1zM784 623v1h1v-1zM785 624v1h1v-1zM786 624v1h1v-1zM787 623v1h1v-1zM788 621v2h1v-2zM789 620v1h1v-1zM790 619v1h1v-1zM791 620v1h1v-1zM792 621v2h1v-2zM793 623v1h1v-1zM794 624v1h1v-1zM795 625v1h1v-1zM796 626v1h1v-1zM797 627v1h1v-1zM798 628v1h1v-1zM799 628v1h1v-1zM800 628v1h1v-1zM801 629v1h1v-1zM802 629v1h1v-1zM803 629v1h1v-1zM804 629v1h1v-1zM805 629v1h1v-1zM806 629v1h1v-1zM807 629v1h1v-1zM808 629v1h1v-1zM809 630v1h1v-1zM810 630v1h1v-1zM811 630v1h1v-1zM812 629v1h1v-1zM813 629v1h1v-1zM814 628v1h1v-1zM815 629v1h1v-1zM816 630v2h1v-2zM817 632v1h1v-1zM818 633v1h1v-1zM819 632v1h1v-1zM820 632v1h1v-1zM821 631v1h1v-1zM822 630v1h1v-1zM823 630v1h1v-1zM824 630v1h1v-1zM825 631v1h1v-1zM826 631v1h1v-1zM827 631v1h1v-1zM828 631v1h1v-1zM829 632v1h1v-1zM830 632v1h1v-1zM831 632v1h1v-1zM832 632v1h1v-1zM833 632v1h1v-1zM834 632v1h1v-1zM835 632v1h1v-1zM836 633v1h1v-1zM837 633v1h1v-1zM838 634v1h1v-1zM839 634v1h1v-1zM840 633v1h1v-1zM841 633v1h1v-1zM842 632v1h1v-1zM843 630v2h1v-2zM844 629v1h1v-1zM845 627v2h1v-2zM846 626v1h1v-1zM847 626v1h1v-1zM848 626v1h1v-1zM849 627v1h1v-1zM850 627v1h1v-1zM851 627v1h1v-1zM852 627v1h1v-1zM853 626v1h1v-1zM854 626v1h1v-1zM855 626v1h1v-1zM856 625v1h1v-1zM857 625v1h1v-1zM858 624v1h1v-1zM859 625v1h1v-1zM860 626v2h1v-2zM861 628v1h1v-1zM862 629v1h1v-1zM863 629v1h1v-1zM864 628v1h1v-1zM865 628v1h1v-1zM866 627v1h1v-1zM867 625v2h1v-2zM868 623v2h1v-2zM869 621v2h1v-2zM870 620v1h1v-1zM871 621v1h1v-1zM872 621v1h1v-1zM873 622v1h1v-1zM874 623v1h1v-1zM875 623v1h1v-1zM876 623v1h1v-1zM877 624v1h1v-1zM878 624v1h1v-1zM879 622v2h1v-2zM880 620v2h1v-2zM881 618v2h1v-2zM882 617v1h1v-1zM883 617v1h1v-1zM884 617v1h1v-1zM885 617v1h1v-1zM886 617v1h1v-1zM887 616v1h1v-1zM888 614v2h1v-2zM889 613v1h1v-1zM890 612v1h1v-1zM891 613v1h1v-1zM892 613v1h1v-1zM893 614v1h1v-1zM894 615v1h1v-1zM895 615v1h1v-1zM896 614v1h1v-1zM897 614v1h1v-1zM898 613v1h1v-1zM899 613v1h1v-1zM900 614v1h1v-1zM901 614v1h1v-1zM902 615v1h1v-1zM903 615v1h1v-1zM904 614v1h1v-1zM905 614v1h1v-1zM906 613v1h1v-1zM907 613v1h1v-1zM908 614v1h1v-1zM909 614v1h1v-1zM910 614v2h1v-2zM911 611v3h1v-3zM912 608v3h1v-3zM913 605v3h1v-3zM914 603v2h1v-2zM915 603v1h1v-1zM916 603v1h1v-1zM917 604v1h1v-1zM918 604v1h1v-1zM919 604v1h1v-1zM920 605v1h1v-1zM921 605v1h1v-1zM922 606v1h1v-1z"/>

</g>
<text x="6.30" y="584.00" font-size="9.9" textLength="66.70" lengthAdjust="spacingAndGlyphs" fill="#000" stroke="#000" stroke-width="0.22">RSI(14) 61.1395</text>
<text x="1168.30" y="581.60" font-size="9.9" textLength="14.30" lengthAdjust="spacingAndGlyphs" fill="#000" stroke="#000" stroke-width="0.22">100</text>
<text x="1167.00" y="602.10" font-size="9.9" textLength="10.20" lengthAdjust="spacingAndGlyphs" fill="#000" stroke="#000" stroke-width="0.22">70</text>
<text x="1167.00" y="637.20" font-size="9.9" textLength="10.20" lengthAdjust="spacingAndGlyphs" fill="#000" stroke="#000" stroke-width="0.22">30</text>
<text x="1168.10" y="656.00" font-size="9.9" textLength="5.10" lengthAdjust="spacingAndGlyphs" fill="#000" stroke="#000" stroke-width="0.22">0</text>
<g shape-rendering="crispEdges" fill="#000">
<rect x="2" y="660" width="1" height="3"/>
<rect x="66" y="660" width="1" height="3"/>
<rect x="130" y="660" width="1" height="3"/>
<rect x="194" y="660" width="1" height="3"/>
<rect x="258" y="660" width="1" height="3"/>
<rect x="322" y="660" width="1" height="3"/>
<rect x="386" y="660" width="1" height="3"/>
<rect x="450" y="660" width="1" height="3"/>
<rect x="514" y="660" width="1" height="3"/>
<rect x="578" y="660" width="1" height="3"/>
<rect x="642" y="660" width="1" height="3"/>
<rect x="706" y="660" width="1" height="3"/>
<rect x="770" y="660" width="1" height="3"/>
<rect x="834" y="660" width="1" height="3"/>
<rect x="898" y="660" width="1" height="3"/>
</g>
<text x="1.60" y="672.00" font-size="9.9" textLength="50.90" lengthAdjust="spacingAndGlyphs" fill="#000" stroke="#000" stroke-width="0.22">18 Feb 2021</text>
<text x="65.00" y="672.00" font-size="9.9" textLength="46.10" lengthAdjust="spacingAndGlyphs" fill="#000" stroke="#000" stroke-width="0.22">9 Mar 2021</text>
<text x="128.80" y="672.00" font-size="9.9" textLength="51.40" lengthAdjust="spacingAndGlyphs" fill="#000" stroke="#000" stroke-width="0.22">27 Mar 2021</text>
<text x="194.00" y="672.00" font-size="9.9" textLength="49.40" lengthAdjust="spacingAndGlyphs" fill="#000" stroke="#000" stroke-width="0.22">15 Apr 2021</text>
<text x="257.40" y="672.00" font-size="9.9" textLength="48.60" lengthAdjust="spacingAndGlyphs" fill="#000" stroke="#000" stroke-width="0.22">4 May 2021</text>
<text x="321.30" y="672.00" font-size="9.9" textLength="53.90" lengthAdjust="spacingAndGlyphs" fill="#000" stroke="#000" stroke-width="0.22">22 May 2021</text>
<text x="385.50" y="672.00" font-size="9.9" textLength="48.40" lengthAdjust="spacingAndGlyphs" fill="#000" stroke="#000" stroke-width="0.22">10 Jun 2021</text>
<text x="449.40" y="672.00" font-size="9.9" textLength="48.40" lengthAdjust="spacingAndGlyphs" fill="#000" stroke="#000" stroke-width="0.22">29 Jun 2021</text>
<text x="514.10" y="672.00" font-size="9.9" textLength="44.30" lengthAdjust="spacingAndGlyphs" fill="#000" stroke="#000" stroke-width="0.22">17 Jul 2021</text>
<text x="578.00" y="672.00" font-size="9.9" textLength="45.60" lengthAdjust="spacingAndGlyphs" fill="#000" stroke="#000" stroke-width="0.22">5 Aug 2021</text>
<text x="641.60" y="672.00" font-size="9.9" textLength="51.80" lengthAdjust="spacingAndGlyphs" fill="#000" stroke="#000" stroke-width="0.22">24 Aug 2021</text>
<text x="706.30" y="672.00" font-size="9.9" textLength="49.90" lengthAdjust="spacingAndGlyphs" fill="#000" stroke="#000" stroke-width="0.22">11 Sep 2021</text>
<text x="769.70" y="672.00" font-size="9.9" textLength="50.40" lengthAdjust="spacingAndGlyphs" fill="#000" stroke="#000" stroke-width="0.22">30 Sep 2021</text>
<text x="833.90" y="672.00" font-size="9.9" textLength="49.00" lengthAdjust="spacingAndGlyphs" fill="#000" stroke="#000" stroke-width="0.22">19 Oct 2021</text>
<text x="897.20" y="672.00" font-size="9.9" textLength="47.40" lengthAdjust="spacingAndGlyphs" fill="#000" stroke="#000" stroke-width="0.22">6 Nov 2021</text>
<g shape-rendering="crispEdges">
<rect x="0" y="680" width="1205" height="1" fill="#ebebeb"/>
<rect x="0" y="681" width="1205" height="1" fill="#f7f7f7"/>
<rect x="0" y="682" width="1205" height="25" fill="#f0f0f0"/>
<rect x="0" y="682" width="1205" height="1" fill="#000"/>
<rect x="0" y="683" width="1205" height="1" fill="#fafafa"/>
<rect x="0" y="702" width="1205" height="1" fill="#fdfdfd"/>
<rect x="0" y="705" width="1205" height="1" fill="#b5b5b5"/>
<rect x="0" y="706" width="1205" height="1" fill="#8a8a8a"/>
<rect x="299" y="682" width="104" height="19" fill="#fff"/>
<rect x="299" y="682" width="1" height="19" fill="#000"/><rect x="402" y="682" width="1" height="19" fill="#000"/><rect x="299" y="700" width="104" height="1" fill="#000"/>
<rect x="107" y="685" width="1" height="14" fill="#5a5a5a"/>
<rect x="211" y="685" width="1" height="14" fill="#5a5a5a"/>
<rect x="507" y="685" width="1" height="14" fill="#5a5a5a"/>
<rect x="594" y="685" width="1" height="14" fill="#5a5a5a"/>
<rect x="663" y="685" width="1" height="14" fill="#5a5a5a"/>
<rect x="763" y="685" width="1" height="14" fill="#5a5a5a"/>
<rect x="854" y="685" width="1" height="14" fill="#5a5a5a"/>
<rect x="959" y="685" width="1" height="14" fill="#5a5a5a"/>
<rect x="1059" y="685" width="1" height="14" fill="#5a5a5a"/>
</g>
<text x="15.50" y="696.50" font-size="12.6" textLength="79.70" lengthAdjust="spacingAndGlyphs" fill="#6a6a6a">EURUSD,Daily</text>
<text x="118.30" y="696.50" font-size="12.6" textLength="81.70" lengthAdjust="spacingAndGlyphs" fill="#6a6a6a">AUDUSD,Daily</text>
<text x="221.00" y="696.50" font-size="12.6" textLength="67.20" lengthAdjust="spacingAndGlyphs" fill="#6a6a6a">USDCHF,H4</text>
<text x="310.40" y="696.50" font-size="12.6" textLength="80.00" lengthAdjust="spacingAndGlyphs" fill="#000">USDCAD,Daily</text>
<text x="413.80" y="696.50" font-size="12.6" textLength="81.90" lengthAdjust="spacingAndGlyphs" fill="#6a6a6a">USDCNH,Daily</text>
<text x="519.00" y="696.50" font-size="12.6" textLength="64.00" lengthAdjust="spacingAndGlyphs" fill="#6a6a6a">UKOil,Daily</text>
<text x="605.50" y="696.50" font-size="12.6" textLength="45.50" lengthAdjust="spacingAndGlyphs" fill="#6a6a6a">DJ30,H1</text>
<text x="674.50" y="696.50" font-size="12.6" textLength="77.71" lengthAdjust="spacingAndGlyphs" fill="#6a6a6a">USDX,Weekly</text>
<text x="774.00" y="696.50" font-size="12.6" textLength="68.50" lengthAdjust="spacingAndGlyphs" fill="#6a6a6a">XAUUSD,H4</text>
<text x="867.50" y="696.50" font-size="12.6" textLength="79.50" lengthAdjust="spacingAndGlyphs" fill="#6a6a6a">GBPUSD,Daily</text>
<text x="970.20" y="696.50" font-size="12.6" textLength="77.71" lengthAdjust="spacingAndGlyphs" fill="#6a6a6a">USDX,Weekly</text>
<path d="M1183.2 688 L1183.2 695 L1179.7 691.5 Z" fill="#8c8c8c"/><path d="M1198.8 688 L1198.8 695 L1202.3 691.5 Z" fill="#8c8c8c"/>
</svg>
</body></html>
